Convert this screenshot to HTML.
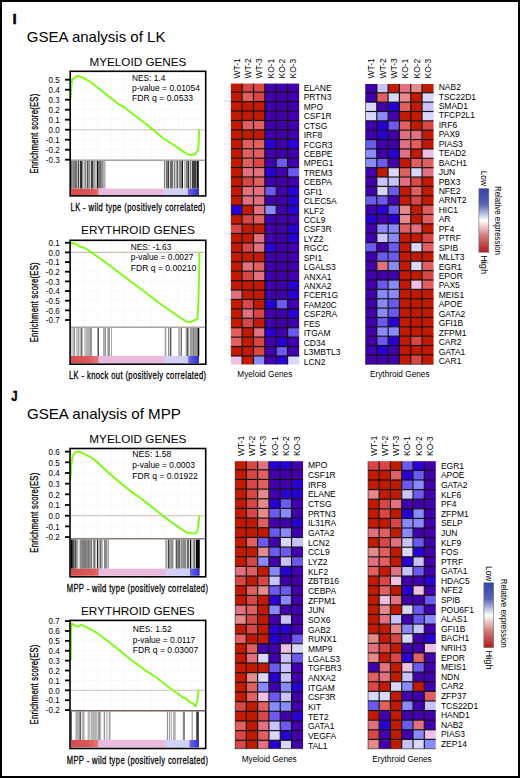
<!DOCTYPE html>
<html><head><meta charset="utf-8"><title>GSEA</title>
<style>
html,body{margin:0;padding:0;background:#fff;}
svg{display:block;}
text{font-family:"Liberation Sans", sans-serif;fill:#000;}
.g{font-size:8.5px;}
.s{font-size:9px;}
.t{font-size:9.3px;}
.h{font-size:11.3px;}
.c{font-size:10.6px;stroke:#000;stroke-width:0.3px;}
.l{font-size:8.3px;}
.pl{font-size:15px;font-weight:bold;stroke:#000;stroke-width:0.5px;}
.big{font-size:15px;}
</style></head>
<body>
<svg width="520" height="778" viewBox="0 0 520 778">
<rect x="1" y="1" width="518" height="776" fill="none" stroke="#000" stroke-width="2"/>
<text x="12.6" y="23.8" class="pl">I</text>
<text x="26.8" y="41.5" class="big" textLength="138.6" lengthAdjust="spacingAndGlyphs">GSEA analysis of LK</text>
<text transform="translate(11.2,401.3) scale(0.75,0.99)" class="pl">J</text>
<text x="26.9" y="418.8" class="big" textLength="154" lengthAdjust="spacingAndGlyphs">GSEA analysis of MPP</text>
<line x1="84.40" y1="71.3" x2="84.40" y2="160.3" stroke="#efefef" stroke-width="0.8" stroke-dasharray="1.2 1.2"/>
<line x1="97.85" y1="71.3" x2="97.85" y2="160.3" stroke="#efefef" stroke-width="0.8" stroke-dasharray="1.2 1.2"/>
<line x1="111.30" y1="71.3" x2="111.30" y2="160.3" stroke="#efefef" stroke-width="0.8" stroke-dasharray="1.2 1.2"/>
<line x1="124.75" y1="71.3" x2="124.75" y2="160.3" stroke="#efefef" stroke-width="0.8" stroke-dasharray="1.2 1.2"/>
<line x1="138.20" y1="71.3" x2="138.20" y2="160.3" stroke="#efefef" stroke-width="0.8" stroke-dasharray="1.2 1.2"/>
<line x1="151.65" y1="71.3" x2="151.65" y2="160.3" stroke="#efefef" stroke-width="0.8" stroke-dasharray="1.2 1.2"/>
<line x1="165.10" y1="71.3" x2="165.10" y2="160.3" stroke="#efefef" stroke-width="0.8" stroke-dasharray="1.2 1.2"/>
<line x1="178.55" y1="71.3" x2="178.55" y2="160.3" stroke="#efefef" stroke-width="0.8" stroke-dasharray="1.2 1.2"/>
<line x1="192.00" y1="71.3" x2="192.00" y2="160.3" stroke="#efefef" stroke-width="0.8" stroke-dasharray="1.2 1.2"/>
<line x1="70.95" y1="79.70" x2="204.95" y2="79.70" stroke="#efefef" stroke-width="0.8" stroke-dasharray="1.2 1.2"/>
<line x1="70.95" y1="89.70" x2="204.95" y2="89.70" stroke="#efefef" stroke-width="0.8" stroke-dasharray="1.2 1.2"/>
<line x1="70.95" y1="99.70" x2="204.95" y2="99.70" stroke="#efefef" stroke-width="0.8" stroke-dasharray="1.2 1.2"/>
<line x1="70.95" y1="109.70" x2="204.95" y2="109.70" stroke="#efefef" stroke-width="0.8" stroke-dasharray="1.2 1.2"/>
<line x1="70.95" y1="119.70" x2="204.95" y2="119.70" stroke="#efefef" stroke-width="0.8" stroke-dasharray="1.2 1.2"/>
<line x1="70.95" y1="139.70" x2="204.95" y2="139.70" stroke="#efefef" stroke-width="0.8" stroke-dasharray="1.2 1.2"/>
<line x1="70.95" y1="149.70" x2="204.95" y2="149.70" stroke="#efefef" stroke-width="0.8" stroke-dasharray="1.2 1.2"/>
<line x1="70.95" y1="159.70" x2="204.95" y2="159.70" stroke="#efefef" stroke-width="0.8" stroke-dasharray="1.2 1.2"/>
<line x1="70.95" y1="129.70" x2="204.95" y2="129.70" stroke="#c9c2b4" stroke-width="1.1"/>
<rect x="71.2" y="161.0" width="1.30" height="27.60" fill="#505050"/>
<rect x="72.5" y="161.0" width="2.50" height="27.60" fill="#808080"/>
<rect x="75" y="161.0" width="2.00" height="27.60" fill="#707070"/>
<rect x="77" y="161.0" width="1.00" height="27.60" fill="#c0c0c0"/>
<rect x="78" y="161.0" width="1.00" height="27.60" fill="#404040"/>
<rect x="79" y="161.0" width="1.00" height="27.60" fill="#d0d0d0"/>
<rect x="80" y="161.0" width="2.00" height="27.60" fill="#303030"/>
<rect x="82" y="161.0" width="1.50" height="27.60" fill="#909090"/>
<rect x="83.5" y="161.0" width="1.00" height="27.60" fill="#d0d0d0"/>
<rect x="84.5" y="161.0" width="1.50" height="27.60" fill="#808080"/>
<rect x="86" y="161.0" width="1.00" height="27.60" fill="#d0d0d0"/>
<rect x="87" y="161.0" width="1.50" height="27.60" fill="#505050"/>
<rect x="88.5" y="161.0" width="1.50" height="27.60" fill="#909090"/>
<rect x="90" y="161.0" width="1.00" height="27.60" fill="#d0d0d0"/>
<rect x="91" y="161.0" width="2.00" height="27.60" fill="#404040"/>
<rect x="93" y="161.0" width="2.00" height="27.60" fill="#a0a0a0"/>
<rect x="95" y="161.0" width="2.00" height="27.60" fill="#c0c0c0"/>
<rect x="97" y="161.0" width="1.00" height="27.60" fill="#101010"/>
<rect x="98" y="161.0" width="3.00" height="27.60" fill="#707070"/>
<rect x="101" y="161.0" width="2.00" height="27.60" fill="#909090"/>
<rect x="103" y="161.0" width="2.00" height="27.60" fill="#b0b0b0"/>
<rect x="105" y="161.0" width="1.00" height="27.60" fill="#d0d0d0"/>
<rect x="163.9" y="161.0" width="1.10" height="27.60" fill="#808080"/>
<rect x="165" y="161.0" width="1.00" height="27.60" fill="#d8d8d8"/>
<rect x="166" y="161.0" width="1.50" height="27.60" fill="#707070"/>
<rect x="167.5" y="161.0" width="1.50" height="27.60" fill="#404040"/>
<rect x="169" y="161.0" width="1.00" height="27.60" fill="#d8d8d8"/>
<rect x="170" y="161.0" width="3.00" height="27.60" fill="#707070"/>
<rect x="173" y="161.0" width="1.00" height="27.60" fill="#d8d8d8"/>
<rect x="174" y="161.0" width="1.50" height="27.60" fill="#808080"/>
<rect x="175.5" y="161.0" width="1.00" height="27.60" fill="#d8d8d8"/>
<rect x="176.5" y="161.0" width="1.50" height="27.60" fill="#606060"/>
<rect x="178" y="161.0" width="1.00" height="27.60" fill="#d0d0d0"/>
<rect x="179" y="161.0" width="1.00" height="27.60" fill="#909090"/>
<rect x="180" y="161.0" width="2.00" height="27.60" fill="#808080"/>
<rect x="182" y="161.0" width="1.00" height="27.60" fill="#101010"/>
<rect x="184" y="161.0" width="2.00" height="27.60" fill="#c0c0c0"/>
<rect x="186" y="161.0" width="2.00" height="27.60" fill="#808080"/>
<rect x="188" y="161.0" width="1.00" height="27.60" fill="#303030"/>
<rect x="189" y="161.0" width="1.00" height="27.60" fill="#d0d0d0"/>
<rect x="190" y="161.0" width="1.00" height="27.60" fill="#808080"/>
<rect x="191" y="161.0" width="1.00" height="27.60" fill="#d0d0d0"/>
<rect x="192" y="161.0" width="4.00" height="27.60" fill="#404040"/>
<rect x="196" y="161.0" width="1.00" height="27.60" fill="#808080"/>
<rect x="197" y="161.0" width="1.80" height="27.60" fill="#101010"/>
<linearGradient id="p1g" x1="0" x2="1" y1="0" y2="0"><stop offset="0%" stop-color="#d64a4a"/><stop offset="16.08%" stop-color="#dc5a5a"/><stop offset="18.32%" stop-color="#de6060"/><stop offset="20.34%" stop-color="#e27888"/><stop offset="20.93%" stop-color="#ebb8de"/><stop offset="69.22%" stop-color="#ebb8de"/><stop offset="69.66%" stop-color="#d2d2f8"/><stop offset="86.90%" stop-color="#d0d0f8"/><stop offset="87.50%" stop-color="#6464e6"/><stop offset="95.19%" stop-color="#3232d0"/><stop offset="95.41%" stop-color="#ffffff"/><stop offset="100%" stop-color="#ffffff"/></linearGradient>
<rect x="70.95" y="188.6" width="134.00" height="6.40" fill="url(#p1g)"/>
<line x1="70.95" y1="160.3" x2="204.95" y2="160.3" stroke="#a8a0a0" stroke-width="1.4"/>
<text x="132.0" y="80.8" class="s" textLength="33.3" lengthAdjust="spacingAndGlyphs">NES: 1.4</text>
<text x="132.0" y="90.9" class="s" textLength="68" lengthAdjust="spacingAndGlyphs">p-value = 0.01054</text>
<text x="132.0" y="101.2" class="s" textLength="61" lengthAdjust="spacingAndGlyphs">FDR q = 0.0533</text>
<polyline points="70.80,98.00 71.30,88.00 72.10,79.30 73.90,78.40 77.50,75.70 80.00,76.90 82.90,77.70 89.60,81.50 99.20,88.80 108.80,96.40 118.50,104.10 125.00,107.90 134.60,115.40 144.20,122.60 152.40,129.30 164.20,139.00 172.70,144.20 180.40,149.60 186.50,153.80 191.20,155.00 195.00,154.20 196.90,151.50 198.10,150.40 198.80,139.20 199.20,129.40" fill="none" stroke="#7efa14" stroke-width="1.9" stroke-linejoin="round"/>
<rect x="70.2" y="71.3" width="135.50" height="124.60" fill="none" stroke="#000" stroke-width="1.6"/>
<line x1="65" y1="79.70" x2="70.2" y2="79.70" stroke="#000" stroke-width="1.8"/>
<text transform="translate(59.6,83.00) scale(0.86,1)" class="t" text-anchor="end">0.5</text>
<line x1="65" y1="89.70" x2="70.2" y2="89.70" stroke="#000" stroke-width="1.8"/>
<text transform="translate(59.6,93.00) scale(0.86,1)" class="t" text-anchor="end">0.4</text>
<line x1="65" y1="99.70" x2="70.2" y2="99.70" stroke="#000" stroke-width="1.8"/>
<text transform="translate(59.6,103.00) scale(0.86,1)" class="t" text-anchor="end">0.3</text>
<line x1="65" y1="109.70" x2="70.2" y2="109.70" stroke="#000" stroke-width="1.8"/>
<text transform="translate(59.6,113.00) scale(0.86,1)" class="t" text-anchor="end">0.2</text>
<line x1="65" y1="119.70" x2="70.2" y2="119.70" stroke="#000" stroke-width="1.8"/>
<text transform="translate(59.6,123.00) scale(0.86,1)" class="t" text-anchor="end">0.1</text>
<line x1="65" y1="129.70" x2="70.2" y2="129.70" stroke="#000" stroke-width="1.8"/>
<text transform="translate(59.6,133.00) scale(0.86,1)" class="t" text-anchor="end">0.0</text>
<line x1="65" y1="139.70" x2="70.2" y2="139.70" stroke="#000" stroke-width="1.8"/>
<text transform="translate(59.6,143.00) scale(0.86,1)" class="t" text-anchor="end">-0.1</text>
<line x1="65" y1="149.70" x2="70.2" y2="149.70" stroke="#000" stroke-width="1.8"/>
<text transform="translate(59.6,153.00) scale(0.86,1)" class="t" text-anchor="end">-0.2</text>
<line x1="65" y1="159.70" x2="70.2" y2="159.70" stroke="#000" stroke-width="1.8"/>
<text transform="translate(59.6,163.00) scale(0.86,1)" class="t" text-anchor="end">-0.3</text>
<text x="89.45" y="65.7" class="h" textLength="97" lengthAdjust="spacingAndGlyphs">MYELOID GENES</text>
<text transform="translate(70.50,210.60) scale(0.72,1)" class="c" style="letter-spacing:0.546px">LK - wild type (positively correlated)</text>
<text transform="translate(37.80,173.60) rotate(-90) scale(0.72,1)" class="c" style="letter-spacing:0.391px">Enrichment score(ES)</text>
<line x1="84.30" y1="240.3" x2="84.30" y2="327.2" stroke="#efefef" stroke-width="0.8" stroke-dasharray="1.2 1.2"/>
<line x1="97.75" y1="240.3" x2="97.75" y2="327.2" stroke="#efefef" stroke-width="0.8" stroke-dasharray="1.2 1.2"/>
<line x1="111.20" y1="240.3" x2="111.20" y2="327.2" stroke="#efefef" stroke-width="0.8" stroke-dasharray="1.2 1.2"/>
<line x1="124.65" y1="240.3" x2="124.65" y2="327.2" stroke="#efefef" stroke-width="0.8" stroke-dasharray="1.2 1.2"/>
<line x1="138.10" y1="240.3" x2="138.10" y2="327.2" stroke="#efefef" stroke-width="0.8" stroke-dasharray="1.2 1.2"/>
<line x1="151.55" y1="240.3" x2="151.55" y2="327.2" stroke="#efefef" stroke-width="0.8" stroke-dasharray="1.2 1.2"/>
<line x1="165.00" y1="240.3" x2="165.00" y2="327.2" stroke="#efefef" stroke-width="0.8" stroke-dasharray="1.2 1.2"/>
<line x1="178.45" y1="240.3" x2="178.45" y2="327.2" stroke="#efefef" stroke-width="0.8" stroke-dasharray="1.2 1.2"/>
<line x1="191.90" y1="240.3" x2="191.90" y2="327.2" stroke="#efefef" stroke-width="0.8" stroke-dasharray="1.2 1.2"/>
<line x1="70.85" y1="242.74" x2="205.05" y2="242.74" stroke="#efefef" stroke-width="0.8" stroke-dasharray="1.2 1.2"/>
<line x1="70.85" y1="262.06" x2="205.05" y2="262.06" stroke="#efefef" stroke-width="0.8" stroke-dasharray="1.2 1.2"/>
<line x1="70.85" y1="271.72" x2="205.05" y2="271.72" stroke="#efefef" stroke-width="0.8" stroke-dasharray="1.2 1.2"/>
<line x1="70.85" y1="281.38" x2="205.05" y2="281.38" stroke="#efefef" stroke-width="0.8" stroke-dasharray="1.2 1.2"/>
<line x1="70.85" y1="291.04" x2="205.05" y2="291.04" stroke="#efefef" stroke-width="0.8" stroke-dasharray="1.2 1.2"/>
<line x1="70.85" y1="300.70" x2="205.05" y2="300.70" stroke="#efefef" stroke-width="0.8" stroke-dasharray="1.2 1.2"/>
<line x1="70.85" y1="310.36" x2="205.05" y2="310.36" stroke="#efefef" stroke-width="0.8" stroke-dasharray="1.2 1.2"/>
<line x1="70.85" y1="320.02" x2="205.05" y2="320.02" stroke="#efefef" stroke-width="0.8" stroke-dasharray="1.2 1.2"/>
<line x1="70.85" y1="252.40" x2="205.05" y2="252.40" stroke="#c9c2b4" stroke-width="1.1"/>
<rect x="71.5" y="328.0" width="1.00" height="28.00" fill="#a0a0a0"/>
<rect x="73" y="328.0" width="1.00" height="28.00" fill="#b8b8b8"/>
<rect x="74" y="328.0" width="1.00" height="28.00" fill="#909090"/>
<rect x="76" y="328.0" width="2.00" height="28.00" fill="#c0c0c0"/>
<rect x="78" y="328.0" width="1.50" height="28.00" fill="#a8a8a8"/>
<rect x="80.5" y="328.0" width="2.00" height="28.00" fill="#707070"/>
<rect x="84" y="328.0" width="2.00" height="28.00" fill="#c8c8c8"/>
<rect x="86" y="328.0" width="4.50" height="28.00" fill="#b0b0b0"/>
<rect x="90.5" y="328.0" width="1.00" height="28.00" fill="#404040"/>
<rect x="97.5" y="328.0" width="1.50" height="28.00" fill="#505050"/>
<rect x="103" y="328.0" width="1.50" height="28.00" fill="#a8a8a8"/>
<rect x="104.5" y="328.0" width="1.50" height="28.00" fill="#909090"/>
<rect x="107" y="328.0" width="1.00" height="28.00" fill="#b8b8b8"/>
<rect x="108" y="328.0" width="2.00" height="28.00" fill="#989898"/>
<rect x="111" y="328.0" width="1.00" height="28.00" fill="#a8a8a8"/>
<rect x="164.7" y="328.0" width="1.60" height="28.00" fill="#a0a0a0"/>
<rect x="168" y="328.0" width="1.00" height="28.00" fill="#909090"/>
<rect x="169.7" y="328.0" width="1.70" height="28.00" fill="#606060"/>
<rect x="178.2" y="328.0" width="2.10" height="28.00" fill="#b0b0b0"/>
<rect x="180.7" y="328.0" width="1.30" height="28.00" fill="#707070"/>
<rect x="185.4" y="328.0" width="1.20" height="28.00" fill="#c0c0c0"/>
<rect x="186.6" y="328.0" width="1.30" height="28.00" fill="#404040"/>
<rect x="187.9" y="328.0" width="1.30" height="28.00" fill="#a0a0a0"/>
<rect x="189.2" y="328.0" width="1.30" height="28.00" fill="#e0e0e0"/>
<rect x="190.5" y="328.0" width="1.20" height="28.00" fill="#505050"/>
<rect x="191.7" y="328.0" width="0.90" height="28.00" fill="#d0d0d0"/>
<rect x="192.6" y="328.0" width="1.20" height="28.00" fill="#505050"/>
<rect x="193.8" y="328.0" width="1.30" height="28.00" fill="#a0a0a0"/>
<rect x="195.1" y="328.0" width="2.50" height="28.00" fill="#909090"/>
<rect x="197.6" y="328.0" width="1.70" height="28.00" fill="#101010"/>
<linearGradient id="p2g" x1="0" x2="1" y1="0" y2="0"><stop offset="0%" stop-color="#d64a4a"/><stop offset="12.48%" stop-color="#dc5a5a"/><stop offset="14.72%" stop-color="#de6060"/><stop offset="20.38%" stop-color="#e27888"/><stop offset="20.98%" stop-color="#ebb8de"/><stop offset="69.19%" stop-color="#ebb8de"/><stop offset="69.63%" stop-color="#d2d2f8"/><stop offset="87.22%" stop-color="#d0d0f8"/><stop offset="87.82%" stop-color="#6464e6"/><stop offset="95.12%" stop-color="#3232d0"/><stop offset="95.34%" stop-color="#ffffff"/><stop offset="100%" stop-color="#ffffff"/></linearGradient>
<rect x="70.85" y="356.0" width="134.20" height="7.30" fill="url(#p2g)"/>
<line x1="70.85" y1="327.2" x2="205.05" y2="327.2" stroke="#aaa2a0" stroke-width="1.4"/>
<text x="130.8" y="250.4" class="s" textLength="40.5" lengthAdjust="spacingAndGlyphs">NES: -1.63</text>
<text x="130.8" y="260.4" class="s" textLength="62.5" lengthAdjust="spacingAndGlyphs">p-value = 0.0027</text>
<text x="130.8" y="270.7" class="s" textLength="65.5" lengthAdjust="spacingAndGlyphs">FDR q = 0.00210</text>
<polyline points="70.50,243.70 72.50,242.90 74.00,243.70 75.50,243.70 79.40,246.40 82.50,247.50 84.00,247.50 90.00,251.30 101.50,259.40 113.10,268.10 124.60,276.70 136.10,285.40 145.00,291.90 156.50,300.90 168.10,309.20 179.60,317.30 186.50,321.70 191.10,321.90 194.60,320.20 197.50,319.00 198.30,304.60 199.00,281.50 199.40,252.00" fill="none" stroke="#7efa14" stroke-width="1.9" stroke-linejoin="round"/>
<rect x="70.1" y="240.3" width="135.70" height="123.90" fill="none" stroke="#000" stroke-width="1.6"/>
<line x1="65" y1="242.74" x2="70.1" y2="242.74" stroke="#000" stroke-width="1.8"/>
<text transform="translate(59.6,246.04) scale(0.86,1)" class="t" text-anchor="end">0.1</text>
<line x1="65" y1="252.40" x2="70.1" y2="252.40" stroke="#000" stroke-width="1.8"/>
<text transform="translate(59.6,255.70) scale(0.86,1)" class="t" text-anchor="end">0.0</text>
<line x1="65" y1="262.06" x2="70.1" y2="262.06" stroke="#000" stroke-width="1.8"/>
<text transform="translate(59.6,265.36) scale(0.86,1)" class="t" text-anchor="end">-0.1</text>
<line x1="65" y1="271.72" x2="70.1" y2="271.72" stroke="#000" stroke-width="1.8"/>
<text transform="translate(59.6,275.02) scale(0.86,1)" class="t" text-anchor="end">-0.2</text>
<line x1="65" y1="281.38" x2="70.1" y2="281.38" stroke="#000" stroke-width="1.8"/>
<text transform="translate(59.6,284.68) scale(0.86,1)" class="t" text-anchor="end">-0.3</text>
<line x1="65" y1="291.04" x2="70.1" y2="291.04" stroke="#000" stroke-width="1.8"/>
<text transform="translate(59.6,294.34) scale(0.86,1)" class="t" text-anchor="end">-0.4</text>
<line x1="65" y1="300.70" x2="70.1" y2="300.70" stroke="#000" stroke-width="1.8"/>
<text transform="translate(59.6,304.00) scale(0.86,1)" class="t" text-anchor="end">-0.5</text>
<line x1="65" y1="310.36" x2="70.1" y2="310.36" stroke="#000" stroke-width="1.8"/>
<text transform="translate(59.6,313.66) scale(0.86,1)" class="t" text-anchor="end">-0.6</text>
<line x1="65" y1="320.02" x2="70.1" y2="320.02" stroke="#000" stroke-width="1.8"/>
<text transform="translate(59.6,323.32) scale(0.86,1)" class="t" text-anchor="end">-0.7</text>
<text x="81.10" y="234.0" class="h" textLength="113.7" lengthAdjust="spacingAndGlyphs">ERYTHROID GENES</text>
<text transform="translate(69.00,379.40) scale(0.72,1)" class="c" style="letter-spacing:0.520px">LK - knock out (positively correlated)</text>
<text transform="translate(37.80,342.25) rotate(-90) scale(0.72,1)" class="c" style="letter-spacing:0.391px">Enrichment score(ES)</text>
<line x1="84.20" y1="448.5" x2="84.20" y2="538.8" stroke="#efefef" stroke-width="0.8" stroke-dasharray="1.2 1.2"/>
<line x1="97.65" y1="448.5" x2="97.65" y2="538.8" stroke="#efefef" stroke-width="0.8" stroke-dasharray="1.2 1.2"/>
<line x1="111.10" y1="448.5" x2="111.10" y2="538.8" stroke="#efefef" stroke-width="0.8" stroke-dasharray="1.2 1.2"/>
<line x1="124.55" y1="448.5" x2="124.55" y2="538.8" stroke="#efefef" stroke-width="0.8" stroke-dasharray="1.2 1.2"/>
<line x1="138.00" y1="448.5" x2="138.00" y2="538.8" stroke="#efefef" stroke-width="0.8" stroke-dasharray="1.2 1.2"/>
<line x1="151.45" y1="448.5" x2="151.45" y2="538.8" stroke="#efefef" stroke-width="0.8" stroke-dasharray="1.2 1.2"/>
<line x1="164.90" y1="448.5" x2="164.90" y2="538.8" stroke="#efefef" stroke-width="0.8" stroke-dasharray="1.2 1.2"/>
<line x1="178.35" y1="448.5" x2="178.35" y2="538.8" stroke="#efefef" stroke-width="0.8" stroke-dasharray="1.2 1.2"/>
<line x1="191.80" y1="448.5" x2="191.80" y2="538.8" stroke="#efefef" stroke-width="0.8" stroke-dasharray="1.2 1.2"/>
<line x1="70.75" y1="451.62" x2="204.95" y2="451.62" stroke="#efefef" stroke-width="0.8" stroke-dasharray="1.2 1.2"/>
<line x1="70.75" y1="462.30" x2="204.95" y2="462.30" stroke="#efefef" stroke-width="0.8" stroke-dasharray="1.2 1.2"/>
<line x1="70.75" y1="472.98" x2="204.95" y2="472.98" stroke="#efefef" stroke-width="0.8" stroke-dasharray="1.2 1.2"/>
<line x1="70.75" y1="483.66" x2="204.95" y2="483.66" stroke="#efefef" stroke-width="0.8" stroke-dasharray="1.2 1.2"/>
<line x1="70.75" y1="494.34" x2="204.95" y2="494.34" stroke="#efefef" stroke-width="0.8" stroke-dasharray="1.2 1.2"/>
<line x1="70.75" y1="505.02" x2="204.95" y2="505.02" stroke="#efefef" stroke-width="0.8" stroke-dasharray="1.2 1.2"/>
<line x1="70.75" y1="526.38" x2="204.95" y2="526.38" stroke="#efefef" stroke-width="0.8" stroke-dasharray="1.2 1.2"/>
<line x1="70.75" y1="537.06" x2="204.95" y2="537.06" stroke="#efefef" stroke-width="0.8" stroke-dasharray="1.2 1.2"/>
<line x1="70.75" y1="515.70" x2="204.95" y2="515.70" stroke="#c9c2b4" stroke-width="1.1"/>
<rect x="70.8" y="539.5" width="2.00" height="29.20" fill="#000000"/>
<rect x="72.8" y="539.5" width="1.30" height="29.20" fill="#505050"/>
<rect x="74.1" y="539.5" width="1.20" height="29.20" fill="#707070"/>
<rect x="75.3" y="539.5" width="0.90" height="29.20" fill="#202020"/>
<rect x="76.2" y="539.5" width="1.30" height="29.20" fill="#808080"/>
<rect x="77.5" y="539.5" width="0.80" height="29.20" fill="#a0a0a0"/>
<rect x="79.6" y="539.5" width="0.80" height="29.20" fill="#909090"/>
<rect x="80.4" y="539.5" width="1.30" height="29.20" fill="#606060"/>
<rect x="81.7" y="539.5" width="3.40" height="29.20" fill="#808080"/>
<rect x="85.1" y="539.5" width="0.80" height="29.20" fill="#505050"/>
<rect x="85.9" y="539.5" width="1.30" height="29.20" fill="#909090"/>
<rect x="87.2" y="539.5" width="1.70" height="29.20" fill="#707070"/>
<rect x="88.9" y="539.5" width="0.80" height="29.20" fill="#404040"/>
<rect x="89.7" y="539.5" width="0.90" height="29.20" fill="#c0c0c0"/>
<rect x="90.6" y="539.5" width="1.20" height="29.20" fill="#303030"/>
<rect x="91.8" y="539.5" width="1.70" height="29.20" fill="#e8e8e8"/>
<rect x="93.5" y="539.5" width="1.30" height="29.20" fill="#404040"/>
<rect x="94.8" y="539.5" width="0.80" height="29.20" fill="#909090"/>
<rect x="96.9" y="539.5" width="1.30" height="29.20" fill="#202020"/>
<rect x="98.2" y="539.5" width="1.30" height="29.20" fill="#c0c0c0"/>
<rect x="99.5" y="539.5" width="1.60" height="29.20" fill="#707070"/>
<rect x="101.1" y="539.5" width="1.70" height="29.20" fill="#a0a0a0"/>
<rect x="104.1" y="539.5" width="1.30" height="29.20" fill="#808080"/>
<rect x="105.4" y="539.5" width="1.20" height="29.20" fill="#505050"/>
<rect x="107.5" y="539.5" width="1.30" height="29.20" fill="#909090"/>
<rect x="165.5" y="539.5" width="1.30" height="29.20" fill="#808080"/>
<rect x="166.8" y="539.5" width="1.20" height="29.20" fill="#d0d0d0"/>
<rect x="168" y="539.5" width="1.30" height="29.20" fill="#404040"/>
<rect x="169.3" y="539.5" width="1.30" height="29.20" fill="#808080"/>
<rect x="170.6" y="539.5" width="2.90" height="29.20" fill="#909090"/>
<rect x="175.7" y="539.5" width="1.20" height="29.20" fill="#404040"/>
<rect x="176.9" y="539.5" width="1.30" height="29.20" fill="#909090"/>
<rect x="178.2" y="539.5" width="1.70" height="29.20" fill="#505050"/>
<rect x="179.9" y="539.5" width="1.30" height="29.20" fill="#c0c0c0"/>
<rect x="181.2" y="539.5" width="1.20" height="29.20" fill="#707070"/>
<rect x="182.4" y="539.5" width="3.80" height="29.20" fill="#888888"/>
<rect x="186.2" y="539.5" width="0.90" height="29.20" fill="#d0d0d0"/>
<rect x="187.1" y="539.5" width="2.10" height="29.20" fill="#606060"/>
<rect x="189.2" y="539.5" width="0.80" height="29.20" fill="#e0e0e0"/>
<rect x="190" y="539.5" width="1.30" height="29.20" fill="#080808"/>
<rect x="192.6" y="539.5" width="1.20" height="29.20" fill="#909090"/>
<rect x="193.8" y="539.5" width="1.30" height="29.20" fill="#707070"/>
<rect x="195.1" y="539.5" width="0.90" height="29.20" fill="#c0c0c0"/>
<rect x="196" y="539.5" width="3.80" height="29.20" fill="#050505"/>
<linearGradient id="p3g" x1="0" x2="1" y1="0" y2="0"><stop offset="0%" stop-color="#d64a4a"/><stop offset="16.58%" stop-color="#dc5a5a"/><stop offset="18.82%" stop-color="#de6060"/><stop offset="20.83%" stop-color="#e27888"/><stop offset="21.42%" stop-color="#ebb8de"/><stop offset="70.53%" stop-color="#ebb8de"/><stop offset="70.98%" stop-color="#d2d2f8"/><stop offset="88.64%" stop-color="#d0d0f8"/><stop offset="89.23%" stop-color="#6464e6"/><stop offset="95.86%" stop-color="#3232d0"/><stop offset="96.09%" stop-color="#ffffff"/><stop offset="100%" stop-color="#ffffff"/></linearGradient>
<rect x="70.75" y="568.7" width="134.20" height="7.10" fill="url(#p3g)"/>
<line x1="70.75" y1="538.8" x2="204.95" y2="538.8" stroke="#8a7d75" stroke-width="1.4"/>
<text x="132.3" y="457.3" class="s" textLength="39" lengthAdjust="spacingAndGlyphs">NES: 1.58</text>
<text x="132.3" y="468.0" class="s" textLength="62.5" lengthAdjust="spacingAndGlyphs">p-value = 0.0003</text>
<text x="132.3" y="478.5" class="s" textLength="65.5" lengthAdjust="spacingAndGlyphs">FDR q = 0.01922</text>
<polyline points="70.50,480.00 71.20,465.70 72.60,456.70 74.80,452.70 78.40,451.50 82.00,452.90 85.00,454.40 90.80,457.20 96.50,461.50 108.10,472.50 119.60,482.30 131.10,491.50 145.00,501.60 156.50,510.60 162.30,515.20 168.10,519.80 179.60,527.90 186.50,532.50 191.10,533.10 194.60,533.60 196.90,532.50 198.30,526.10 199.40,515.50" fill="none" stroke="#7efa14" stroke-width="1.9" stroke-linejoin="round"/>
<rect x="70.0" y="448.5" width="135.70" height="128.30" fill="none" stroke="#000" stroke-width="1.6"/>
<line x1="65" y1="451.62" x2="70.0" y2="451.62" stroke="#000" stroke-width="1.8"/>
<text transform="translate(59.6,454.92) scale(0.86,1)" class="t" text-anchor="end">0.6</text>
<line x1="65" y1="462.30" x2="70.0" y2="462.30" stroke="#000" stroke-width="1.8"/>
<text transform="translate(59.6,465.60) scale(0.86,1)" class="t" text-anchor="end">0.5</text>
<line x1="65" y1="472.98" x2="70.0" y2="472.98" stroke="#000" stroke-width="1.8"/>
<text transform="translate(59.6,476.28) scale(0.86,1)" class="t" text-anchor="end">0.4</text>
<line x1="65" y1="483.66" x2="70.0" y2="483.66" stroke="#000" stroke-width="1.8"/>
<text transform="translate(59.6,486.96) scale(0.86,1)" class="t" text-anchor="end">0.3</text>
<line x1="65" y1="494.34" x2="70.0" y2="494.34" stroke="#000" stroke-width="1.8"/>
<text transform="translate(59.6,497.64) scale(0.86,1)" class="t" text-anchor="end">0.2</text>
<line x1="65" y1="505.02" x2="70.0" y2="505.02" stroke="#000" stroke-width="1.8"/>
<text transform="translate(59.6,508.32) scale(0.86,1)" class="t" text-anchor="end">0.1</text>
<line x1="65" y1="515.70" x2="70.0" y2="515.70" stroke="#000" stroke-width="1.8"/>
<text transform="translate(59.6,519.00) scale(0.86,1)" class="t" text-anchor="end">0.0</text>
<line x1="65" y1="526.38" x2="70.0" y2="526.38" stroke="#000" stroke-width="1.8"/>
<text transform="translate(59.6,529.68) scale(0.86,1)" class="t" text-anchor="end">-0.1</text>
<line x1="65" y1="537.06" x2="70.0" y2="537.06" stroke="#000" stroke-width="1.8"/>
<text transform="translate(59.6,540.36) scale(0.86,1)" class="t" text-anchor="end">-0.2</text>
<text x="89.35" y="442.6" class="h" textLength="97" lengthAdjust="spacingAndGlyphs">MYELOID GENES</text>
<text transform="translate(66.70,591.50) scale(0.72,1)" class="c" style="letter-spacing:0.511px">MPP - wild type (positively correlated)</text>
<text transform="translate(37.80,552.65) rotate(-90) scale(0.72,1)" class="c" style="letter-spacing:0.391px">Enrichment score(ES)</text>
<line x1="84.20" y1="620.4" x2="84.20" y2="710.8" stroke="#efefef" stroke-width="0.8" stroke-dasharray="1.2 1.2"/>
<line x1="97.65" y1="620.4" x2="97.65" y2="710.8" stroke="#efefef" stroke-width="0.8" stroke-dasharray="1.2 1.2"/>
<line x1="111.10" y1="620.4" x2="111.10" y2="710.8" stroke="#efefef" stroke-width="0.8" stroke-dasharray="1.2 1.2"/>
<line x1="124.55" y1="620.4" x2="124.55" y2="710.8" stroke="#efefef" stroke-width="0.8" stroke-dasharray="1.2 1.2"/>
<line x1="138.00" y1="620.4" x2="138.00" y2="710.8" stroke="#efefef" stroke-width="0.8" stroke-dasharray="1.2 1.2"/>
<line x1="151.45" y1="620.4" x2="151.45" y2="710.8" stroke="#efefef" stroke-width="0.8" stroke-dasharray="1.2 1.2"/>
<line x1="164.90" y1="620.4" x2="164.90" y2="710.8" stroke="#efefef" stroke-width="0.8" stroke-dasharray="1.2 1.2"/>
<line x1="178.35" y1="620.4" x2="178.35" y2="710.8" stroke="#efefef" stroke-width="0.8" stroke-dasharray="1.2 1.2"/>
<line x1="191.80" y1="620.4" x2="191.80" y2="710.8" stroke="#efefef" stroke-width="0.8" stroke-dasharray="1.2 1.2"/>
<line x1="70.75" y1="621.07" x2="204.95" y2="621.07" stroke="#efefef" stroke-width="0.8" stroke-dasharray="1.2 1.2"/>
<line x1="70.75" y1="630.96" x2="204.95" y2="630.96" stroke="#efefef" stroke-width="0.8" stroke-dasharray="1.2 1.2"/>
<line x1="70.75" y1="640.85" x2="204.95" y2="640.85" stroke="#efefef" stroke-width="0.8" stroke-dasharray="1.2 1.2"/>
<line x1="70.75" y1="650.74" x2="204.95" y2="650.74" stroke="#efefef" stroke-width="0.8" stroke-dasharray="1.2 1.2"/>
<line x1="70.75" y1="660.63" x2="204.95" y2="660.63" stroke="#efefef" stroke-width="0.8" stroke-dasharray="1.2 1.2"/>
<line x1="70.75" y1="670.52" x2="204.95" y2="670.52" stroke="#efefef" stroke-width="0.8" stroke-dasharray="1.2 1.2"/>
<line x1="70.75" y1="680.41" x2="204.95" y2="680.41" stroke="#efefef" stroke-width="0.8" stroke-dasharray="1.2 1.2"/>
<line x1="70.75" y1="700.19" x2="204.95" y2="700.19" stroke="#efefef" stroke-width="0.8" stroke-dasharray="1.2 1.2"/>
<line x1="70.75" y1="710.08" x2="204.95" y2="710.08" stroke="#efefef" stroke-width="0.8" stroke-dasharray="1.2 1.2"/>
<line x1="70.75" y1="690.30" x2="204.95" y2="690.30" stroke="#c9c2b4" stroke-width="1.1"/>
<rect x="70.8" y="711.5" width="0.80" height="28.50" fill="#000000"/>
<rect x="75.3" y="711.5" width="4.30" height="28.50" fill="#b0b0b0"/>
<rect x="79.6" y="711.5" width="1.20" height="28.50" fill="#404040"/>
<rect x="81.7" y="711.5" width="3.00" height="28.50" fill="#b0b0b0"/>
<rect x="87.6" y="711.5" width="1.30" height="28.50" fill="#b0b0b0"/>
<rect x="88.9" y="711.5" width="0.80" height="28.50" fill="#909090"/>
<rect x="89.7" y="711.5" width="1.30" height="28.50" fill="#e0e0e0"/>
<rect x="91" y="711.5" width="5.90" height="28.50" fill="#b4b4b4"/>
<rect x="96.9" y="711.5" width="1.30" height="28.50" fill="#c8c8c8"/>
<rect x="98.2" y="711.5" width="2.10" height="28.50" fill="#909090"/>
<rect x="100.3" y="711.5" width="0.90" height="28.50" fill="#b0b0b0"/>
<rect x="103.7" y="711.5" width="1.30" height="28.50" fill="#909090"/>
<rect x="106.2" y="711.5" width="1.30" height="28.50" fill="#b0b0b0"/>
<rect x="108.8" y="711.5" width="1.70" height="28.50" fill="#a0a0a0"/>
<rect x="166.9" y="711.5" width="1.10" height="28.50" fill="#909090"/>
<rect x="168.9" y="711.5" width="1.10" height="28.50" fill="#a0a0a0"/>
<rect x="170.8" y="711.5" width="1.00" height="28.50" fill="#a0a0a0"/>
<rect x="173.1" y="711.5" width="2.60" height="28.50" fill="#b0b0b0"/>
<rect x="182.8" y="711.5" width="2.20" height="28.50" fill="#888888"/>
<rect x="191.5" y="711.5" width="1.50" height="28.50" fill="#b0b0b0"/>
<rect x="196.2" y="711.5" width="2.70" height="28.50" fill="#404040"/>
<linearGradient id="p4g" x1="0" x2="1" y1="0" y2="0"><stop offset="0%" stop-color="#d64a4a"/><stop offset="13.52%" stop-color="#dc5a5a"/><stop offset="15.76%" stop-color="#de6060"/><stop offset="20.16%" stop-color="#e27888"/><stop offset="20.75%" stop-color="#ebb8de"/><stop offset="70.38%" stop-color="#ebb8de"/><stop offset="70.83%" stop-color="#d2d2f8"/><stop offset="88.26%" stop-color="#d0d0f8"/><stop offset="88.86%" stop-color="#6464e6"/><stop offset="95.34%" stop-color="#3232d0"/><stop offset="95.57%" stop-color="#ffffff"/><stop offset="100%" stop-color="#ffffff"/></linearGradient>
<rect x="70.75" y="740.0" width="134.20" height="7.40" fill="url(#p4g)"/>
<line x1="70.75" y1="710.8" x2="204.95" y2="710.8" stroke="#6e625c" stroke-width="1.4"/>
<text x="132.8" y="632.2" class="s" textLength="39" lengthAdjust="spacingAndGlyphs">NES: 1.52</text>
<text x="132.8" y="643.0" class="s" textLength="62.5" lengthAdjust="spacingAndGlyphs">p-value = 0.0117</text>
<text x="132.8" y="653.2" class="s" textLength="65.5" lengthAdjust="spacingAndGlyphs">FDR q = 0.03007</text>
<polyline points="70.90,660.00 71.00,645.00 71.20,630.00 71.50,623.40 73.40,624.70 76.10,626.10 78.80,626.60 80.20,625.50 81.50,624.70 84.20,626.10 85.00,626.30 96.50,632.70 108.10,641.30 119.60,650.60 131.10,659.80 145.00,670.10 156.50,677.50 168.10,686.70 172.70,690.20 179.60,694.80 183.10,697.90 184.80,697.70 191.10,702.90 192.90,703.40 195.70,706.30 197.50,700.00 198.60,689.60" fill="none" stroke="#7efa14" stroke-width="1.9" stroke-linejoin="round"/>
<rect x="70.0" y="620.4" width="135.70" height="128.10" fill="none" stroke="#000" stroke-width="1.6"/>
<line x1="65" y1="621.07" x2="70.0" y2="621.07" stroke="#000" stroke-width="1.8"/>
<text transform="translate(59.6,624.37) scale(0.86,1)" class="t" text-anchor="end">0.7</text>
<line x1="65" y1="630.96" x2="70.0" y2="630.96" stroke="#000" stroke-width="1.8"/>
<text transform="translate(59.6,634.26) scale(0.86,1)" class="t" text-anchor="end">0.6</text>
<line x1="65" y1="640.85" x2="70.0" y2="640.85" stroke="#000" stroke-width="1.8"/>
<text transform="translate(59.6,644.15) scale(0.86,1)" class="t" text-anchor="end">0.5</text>
<line x1="65" y1="650.74" x2="70.0" y2="650.74" stroke="#000" stroke-width="1.8"/>
<text transform="translate(59.6,654.04) scale(0.86,1)" class="t" text-anchor="end">0.4</text>
<line x1="65" y1="660.63" x2="70.0" y2="660.63" stroke="#000" stroke-width="1.8"/>
<text transform="translate(59.6,663.93) scale(0.86,1)" class="t" text-anchor="end">0.3</text>
<line x1="65" y1="670.52" x2="70.0" y2="670.52" stroke="#000" stroke-width="1.8"/>
<text transform="translate(59.6,673.82) scale(0.86,1)" class="t" text-anchor="end">0.2</text>
<line x1="65" y1="680.41" x2="70.0" y2="680.41" stroke="#000" stroke-width="1.8"/>
<text transform="translate(59.6,683.71) scale(0.86,1)" class="t" text-anchor="end">0.1</text>
<line x1="65" y1="690.30" x2="70.0" y2="690.30" stroke="#000" stroke-width="1.8"/>
<text transform="translate(59.6,693.60) scale(0.86,1)" class="t" text-anchor="end">0.0</text>
<line x1="65" y1="700.19" x2="70.0" y2="700.19" stroke="#000" stroke-width="1.8"/>
<text transform="translate(59.6,703.49) scale(0.86,1)" class="t" text-anchor="end">-0.1</text>
<line x1="65" y1="710.08" x2="70.0" y2="710.08" stroke="#000" stroke-width="1.8"/>
<text transform="translate(59.6,713.38) scale(0.86,1)" class="t" text-anchor="end">-0.2</text>
<text x="81.00" y="615.0" class="h" textLength="113.7" lengthAdjust="spacingAndGlyphs">ERYTHROID GENES</text>
<text transform="translate(66.70,764.00) scale(0.72,1)" class="c" style="letter-spacing:0.511px">MPP - wild type (positively correlated)</text>
<text transform="translate(37.80,724.45) rotate(-90) scale(0.72,1)" class="c" style="letter-spacing:0.391px">Enrichment score(ES)</text>
<rect x="230.85" y="83.60" width="11.43" height="8.65" fill="#c21a00"/>
<rect x="242.22" y="83.60" width="11.43" height="8.65" fill="#d84646"/>
<rect x="253.60" y="83.60" width="11.43" height="8.65" fill="#d84646"/>
<rect x="264.98" y="83.60" width="11.43" height="8.65" fill="#4200ac"/>
<rect x="276.35" y="83.60" width="11.43" height="8.65" fill="#4200ac"/>
<rect x="287.73" y="83.60" width="11.43" height="8.65" fill="#4200ac"/>
<rect x="230.85" y="92.20" width="11.43" height="9.47" fill="#c21a00"/>
<rect x="242.22" y="92.20" width="11.43" height="9.47" fill="#e25f5f"/>
<rect x="253.60" y="92.20" width="11.43" height="9.47" fill="#d84646"/>
<rect x="264.98" y="92.20" width="11.43" height="9.47" fill="#4200ac"/>
<rect x="276.35" y="92.20" width="11.43" height="9.47" fill="#4200ac"/>
<rect x="287.73" y="92.20" width="11.43" height="9.47" fill="#4200ac"/>
<rect x="230.85" y="101.62" width="11.43" height="9.47" fill="#c21a00"/>
<rect x="242.22" y="101.62" width="11.43" height="9.47" fill="#c21a00"/>
<rect x="253.60" y="101.62" width="11.43" height="9.47" fill="#c21a00"/>
<rect x="264.98" y="101.62" width="11.43" height="9.47" fill="#4200ac"/>
<rect x="276.35" y="101.62" width="11.43" height="9.47" fill="#4200ac"/>
<rect x="287.73" y="101.62" width="11.43" height="9.47" fill="#4200ac"/>
<rect x="230.85" y="111.04" width="11.43" height="9.47" fill="#c21a00"/>
<rect x="242.22" y="111.04" width="11.43" height="9.47" fill="#c21a00"/>
<rect x="253.60" y="111.04" width="11.43" height="9.47" fill="#c21a00"/>
<rect x="264.98" y="111.04" width="11.43" height="9.47" fill="#4200ac"/>
<rect x="276.35" y="111.04" width="11.43" height="9.47" fill="#4200ac"/>
<rect x="287.73" y="111.04" width="11.43" height="9.47" fill="#4200ac"/>
<rect x="230.85" y="120.46" width="11.43" height="9.47" fill="#c21a00"/>
<rect x="242.22" y="120.46" width="11.43" height="9.47" fill="#e25f5f"/>
<rect x="253.60" y="120.46" width="11.43" height="9.47" fill="#e25f5f"/>
<rect x="264.98" y="120.46" width="11.43" height="9.47" fill="#4200ac"/>
<rect x="276.35" y="120.46" width="11.43" height="9.47" fill="#4200ac"/>
<rect x="287.73" y="120.46" width="11.43" height="9.47" fill="#4200ac"/>
<rect x="230.85" y="129.88" width="11.43" height="9.47" fill="#c21a00"/>
<rect x="242.22" y="129.88" width="11.43" height="9.47" fill="#c21a00"/>
<rect x="253.60" y="129.88" width="11.43" height="9.47" fill="#c21a00"/>
<rect x="264.98" y="129.88" width="11.43" height="9.47" fill="#4200ac"/>
<rect x="276.35" y="129.88" width="11.43" height="9.47" fill="#4200ac"/>
<rect x="287.73" y="129.88" width="11.43" height="9.47" fill="#4200ac"/>
<rect x="230.85" y="139.31" width="11.43" height="9.47" fill="#c21a00"/>
<rect x="242.22" y="139.31" width="11.43" height="9.47" fill="#e25f5f"/>
<rect x="253.60" y="139.31" width="11.43" height="9.47" fill="#e25f5f"/>
<rect x="264.98" y="139.31" width="11.43" height="9.47" fill="#2800d4"/>
<rect x="276.35" y="139.31" width="11.43" height="9.47" fill="#4200ac"/>
<rect x="287.73" y="139.31" width="11.43" height="9.47" fill="#2800d4"/>
<rect x="230.85" y="148.73" width="11.43" height="9.47" fill="#c21a00"/>
<rect x="242.22" y="148.73" width="11.43" height="9.47" fill="#e25f5f"/>
<rect x="253.60" y="148.73" width="11.43" height="9.47" fill="#e25f5f"/>
<rect x="264.98" y="148.73" width="11.43" height="9.47" fill="#4200ac"/>
<rect x="276.35" y="148.73" width="11.43" height="9.47" fill="#4200ac"/>
<rect x="287.73" y="148.73" width="11.43" height="9.47" fill="#4200ac"/>
<rect x="230.85" y="158.15" width="11.43" height="9.47" fill="#c21a00"/>
<rect x="242.22" y="158.15" width="11.43" height="9.47" fill="#e25f5f"/>
<rect x="253.60" y="158.15" width="11.43" height="9.47" fill="#d84646"/>
<rect x="264.98" y="158.15" width="11.43" height="9.47" fill="#4200ac"/>
<rect x="276.35" y="158.15" width="11.43" height="9.47" fill="#6c5af0"/>
<rect x="287.73" y="158.15" width="11.43" height="9.47" fill="#4200ac"/>
<rect x="230.85" y="167.57" width="11.43" height="9.47" fill="#c21a00"/>
<rect x="242.22" y="167.57" width="11.43" height="9.47" fill="#e27080"/>
<rect x="253.60" y="167.57" width="11.43" height="9.47" fill="#e27080"/>
<rect x="264.98" y="167.57" width="11.43" height="9.47" fill="#2800d4"/>
<rect x="276.35" y="167.57" width="11.43" height="9.47" fill="#4200ac"/>
<rect x="287.73" y="167.57" width="11.43" height="9.47" fill="#6c5af0"/>
<rect x="230.85" y="176.99" width="11.43" height="9.47" fill="#c21a00"/>
<rect x="242.22" y="176.99" width="11.43" height="9.47" fill="#d84646"/>
<rect x="253.60" y="176.99" width="11.43" height="9.47" fill="#e25f5f"/>
<rect x="264.98" y="176.99" width="11.43" height="9.47" fill="#4200ac"/>
<rect x="276.35" y="176.99" width="11.43" height="9.47" fill="#4200ac"/>
<rect x="287.73" y="176.99" width="11.43" height="9.47" fill="#4200ac"/>
<rect x="230.85" y="186.41" width="11.43" height="9.47" fill="#c21a00"/>
<rect x="242.22" y="186.41" width="11.43" height="9.47" fill="#e27080"/>
<rect x="253.60" y="186.41" width="11.43" height="9.47" fill="#e27080"/>
<rect x="264.98" y="186.41" width="11.43" height="9.47" fill="#6c5af0"/>
<rect x="276.35" y="186.41" width="11.43" height="9.47" fill="#4200ac"/>
<rect x="287.73" y="186.41" width="11.43" height="9.47" fill="#2800d4"/>
<rect x="230.85" y="195.83" width="11.43" height="9.47" fill="#c21a00"/>
<rect x="242.22" y="195.83" width="11.43" height="9.47" fill="#e27080"/>
<rect x="253.60" y="195.83" width="11.43" height="9.47" fill="#e27080"/>
<rect x="264.98" y="195.83" width="11.43" height="9.47" fill="#4200ac"/>
<rect x="276.35" y="195.83" width="11.43" height="9.47" fill="#4200ac"/>
<rect x="287.73" y="195.83" width="11.43" height="9.47" fill="#2800d4"/>
<rect x="230.85" y="205.25" width="11.43" height="9.47" fill="#2800d4"/>
<rect x="242.22" y="205.25" width="11.43" height="9.47" fill="#c21a00"/>
<rect x="253.60" y="205.25" width="11.43" height="9.47" fill="#e27080"/>
<rect x="264.98" y="205.25" width="11.43" height="9.47" fill="#8a8aff"/>
<rect x="276.35" y="205.25" width="11.43" height="9.47" fill="#4200ac"/>
<rect x="287.73" y="205.25" width="11.43" height="9.47" fill="#2800d4"/>
<rect x="230.85" y="214.67" width="11.43" height="9.47" fill="#c21a00"/>
<rect x="242.22" y="214.67" width="11.43" height="9.47" fill="#d84646"/>
<rect x="253.60" y="214.67" width="11.43" height="9.47" fill="#e25f5f"/>
<rect x="264.98" y="214.67" width="11.43" height="9.47" fill="#4200ac"/>
<rect x="276.35" y="214.67" width="11.43" height="9.47" fill="#4200ac"/>
<rect x="287.73" y="214.67" width="11.43" height="9.47" fill="#4200ac"/>
<rect x="230.85" y="224.09" width="11.43" height="9.47" fill="#d84646"/>
<rect x="242.22" y="224.09" width="11.43" height="9.47" fill="#c21a00"/>
<rect x="253.60" y="224.09" width="11.43" height="9.47" fill="#c21a00"/>
<rect x="264.98" y="224.09" width="11.43" height="9.47" fill="#4200ac"/>
<rect x="276.35" y="224.09" width="11.43" height="9.47" fill="#4200ac"/>
<rect x="287.73" y="224.09" width="11.43" height="9.47" fill="#2800d4"/>
<rect x="230.85" y="233.52" width="11.43" height="9.47" fill="#c21a00"/>
<rect x="242.22" y="233.52" width="11.43" height="9.47" fill="#c21a00"/>
<rect x="253.60" y="233.52" width="11.43" height="9.47" fill="#e27080"/>
<rect x="264.98" y="233.52" width="11.43" height="9.47" fill="#4200ac"/>
<rect x="276.35" y="233.52" width="11.43" height="9.47" fill="#4200ac"/>
<rect x="287.73" y="233.52" width="11.43" height="9.47" fill="#2800d4"/>
<rect x="230.85" y="242.94" width="11.43" height="9.47" fill="#c21a00"/>
<rect x="242.22" y="242.94" width="11.43" height="9.47" fill="#d84646"/>
<rect x="253.60" y="242.94" width="11.43" height="9.47" fill="#e27080"/>
<rect x="264.98" y="242.94" width="11.43" height="9.47" fill="#2800d4"/>
<rect x="276.35" y="242.94" width="11.43" height="9.47" fill="#4200ac"/>
<rect x="287.73" y="242.94" width="11.43" height="9.47" fill="#4200ac"/>
<rect x="230.85" y="252.36" width="11.43" height="9.47" fill="#c21a00"/>
<rect x="242.22" y="252.36" width="11.43" height="9.47" fill="#c21a00"/>
<rect x="253.60" y="252.36" width="11.43" height="9.47" fill="#c21a00"/>
<rect x="264.98" y="252.36" width="11.43" height="9.47" fill="#4200ac"/>
<rect x="276.35" y="252.36" width="11.43" height="9.47" fill="#4200ac"/>
<rect x="287.73" y="252.36" width="11.43" height="9.47" fill="#4200ac"/>
<rect x="230.85" y="261.78" width="11.43" height="9.47" fill="#c21a00"/>
<rect x="242.22" y="261.78" width="11.43" height="9.47" fill="#e27080"/>
<rect x="253.60" y="261.78" width="11.43" height="9.47" fill="#e25f5f"/>
<rect x="264.98" y="261.78" width="11.43" height="9.47" fill="#4200ac"/>
<rect x="276.35" y="261.78" width="11.43" height="9.47" fill="#4200ac"/>
<rect x="287.73" y="261.78" width="11.43" height="9.47" fill="#4200ac"/>
<rect x="230.85" y="271.20" width="11.43" height="9.47" fill="#c21a00"/>
<rect x="242.22" y="271.20" width="11.43" height="9.47" fill="#d84646"/>
<rect x="253.60" y="271.20" width="11.43" height="9.47" fill="#e27080"/>
<rect x="264.98" y="271.20" width="11.43" height="9.47" fill="#4200ac"/>
<rect x="276.35" y="271.20" width="11.43" height="9.47" fill="#4200ac"/>
<rect x="287.73" y="271.20" width="11.43" height="9.47" fill="#4200ac"/>
<rect x="230.85" y="280.62" width="11.43" height="9.47" fill="#c21a00"/>
<rect x="242.22" y="280.62" width="11.43" height="9.47" fill="#c21a00"/>
<rect x="253.60" y="280.62" width="11.43" height="9.47" fill="#c21a00"/>
<rect x="264.98" y="280.62" width="11.43" height="9.47" fill="#4200ac"/>
<rect x="276.35" y="280.62" width="11.43" height="9.47" fill="#4200ac"/>
<rect x="287.73" y="280.62" width="11.43" height="9.47" fill="#2800d4"/>
<rect x="230.85" y="290.04" width="11.43" height="9.47" fill="#e27080"/>
<rect x="242.22" y="290.04" width="11.43" height="9.47" fill="#c21a00"/>
<rect x="253.60" y="290.04" width="11.43" height="9.47" fill="#c21a00"/>
<rect x="264.98" y="290.04" width="11.43" height="9.47" fill="#4200ac"/>
<rect x="276.35" y="290.04" width="11.43" height="9.47" fill="#4200ac"/>
<rect x="287.73" y="290.04" width="11.43" height="9.47" fill="#2800d4"/>
<rect x="230.85" y="299.46" width="11.43" height="9.47" fill="#c21a00"/>
<rect x="242.22" y="299.46" width="11.43" height="9.47" fill="#d84646"/>
<rect x="253.60" y="299.46" width="11.43" height="9.47" fill="#c21a00"/>
<rect x="264.98" y="299.46" width="11.43" height="9.47" fill="#2800d4"/>
<rect x="276.35" y="299.46" width="11.43" height="9.47" fill="#6c5af0"/>
<rect x="287.73" y="299.46" width="11.43" height="9.47" fill="#4200ac"/>
<rect x="230.85" y="308.88" width="11.43" height="9.47" fill="#c21a00"/>
<rect x="242.22" y="308.88" width="11.43" height="9.47" fill="#e27080"/>
<rect x="253.60" y="308.88" width="11.43" height="9.47" fill="#d84646"/>
<rect x="264.98" y="308.88" width="11.43" height="9.47" fill="#4200ac"/>
<rect x="276.35" y="308.88" width="11.43" height="9.47" fill="#4200ac"/>
<rect x="287.73" y="308.88" width="11.43" height="9.47" fill="#2800d4"/>
<rect x="230.85" y="318.30" width="11.43" height="9.47" fill="#c21a00"/>
<rect x="242.22" y="318.30" width="11.43" height="9.47" fill="#d84646"/>
<rect x="253.60" y="318.30" width="11.43" height="9.47" fill="#c21a00"/>
<rect x="264.98" y="318.30" width="11.43" height="9.47" fill="#4200ac"/>
<rect x="276.35" y="318.30" width="11.43" height="9.47" fill="#4200ac"/>
<rect x="287.73" y="318.30" width="11.43" height="9.47" fill="#4200ac"/>
<rect x="230.85" y="327.73" width="11.43" height="9.47" fill="#e25f5f"/>
<rect x="242.22" y="327.73" width="11.43" height="9.47" fill="#c21a00"/>
<rect x="253.60" y="327.73" width="11.43" height="9.47" fill="#e27080"/>
<rect x="264.98" y="327.73" width="11.43" height="9.47" fill="#2800d4"/>
<rect x="276.35" y="327.73" width="11.43" height="9.47" fill="#4200ac"/>
<rect x="287.73" y="327.73" width="11.43" height="9.47" fill="#6c5af0"/>
<rect x="230.85" y="337.15" width="11.43" height="9.47" fill="#e25f5f"/>
<rect x="242.22" y="337.15" width="11.43" height="9.47" fill="#c21a00"/>
<rect x="253.60" y="337.15" width="11.43" height="9.47" fill="#d84646"/>
<rect x="264.98" y="337.15" width="11.43" height="9.47" fill="#4200ac"/>
<rect x="276.35" y="337.15" width="11.43" height="9.47" fill="#2800d4"/>
<rect x="287.73" y="337.15" width="11.43" height="9.47" fill="#4200ac"/>
<rect x="230.85" y="346.57" width="11.43" height="9.47" fill="#c21a00"/>
<rect x="242.22" y="346.57" width="11.43" height="9.47" fill="#c21a00"/>
<rect x="253.60" y="346.57" width="11.43" height="9.47" fill="#d84646"/>
<rect x="264.98" y="346.57" width="11.43" height="9.47" fill="#4200ac"/>
<rect x="276.35" y="346.57" width="11.43" height="9.47" fill="#6c5af0"/>
<rect x="287.73" y="346.57" width="11.43" height="9.47" fill="#4200ac"/>
<rect x="230.85" y="355.99" width="11.43" height="8.46" fill="#f0c0e4"/>
<rect x="242.22" y="355.99" width="11.43" height="8.46" fill="#c21a00"/>
<rect x="253.60" y="355.99" width="11.43" height="8.46" fill="#8a8aff"/>
<rect x="264.98" y="355.99" width="11.43" height="8.46" fill="#4200ac"/>
<rect x="276.35" y="355.99" width="11.43" height="8.46" fill="#2800d4"/>
<rect x="287.73" y="355.99" width="11.43" height="8.46" fill="#d8d8ff"/>
<rect x="241.53" y="83.60" width="1.15" height="280.80" fill="#111"/>
<rect x="252.90" y="83.60" width="1.15" height="280.80" fill="#111"/>
<rect x="264.27" y="83.60" width="1.15" height="280.80" fill="#111"/>
<rect x="275.65" y="83.60" width="1.15" height="280.80" fill="#111"/>
<rect x="287.02" y="83.60" width="1.15" height="280.80" fill="#111"/>
<rect x="230.85" y="91.60" width="68.25" height="1.15" fill="#111"/>
<rect x="230.85" y="101.02" width="68.25" height="1.15" fill="#111"/>
<rect x="230.85" y="110.44" width="68.25" height="1.15" fill="#111"/>
<rect x="230.85" y="119.86" width="68.25" height="1.15" fill="#111"/>
<rect x="230.85" y="129.28" width="68.25" height="1.15" fill="#111"/>
<rect x="230.85" y="138.71" width="68.25" height="1.15" fill="#111"/>
<rect x="230.85" y="148.13" width="68.25" height="1.15" fill="#111"/>
<rect x="230.85" y="157.55" width="68.25" height="1.15" fill="#111"/>
<rect x="230.85" y="166.97" width="68.25" height="1.15" fill="#111"/>
<rect x="230.85" y="176.39" width="68.25" height="1.15" fill="#111"/>
<rect x="230.85" y="185.81" width="68.25" height="1.15" fill="#111"/>
<rect x="230.85" y="195.23" width="68.25" height="1.15" fill="#111"/>
<rect x="230.85" y="204.65" width="68.25" height="1.15" fill="#111"/>
<rect x="230.85" y="214.07" width="68.25" height="1.15" fill="#111"/>
<rect x="230.85" y="223.50" width="68.25" height="1.15" fill="#111"/>
<rect x="230.85" y="232.92" width="68.25" height="1.15" fill="#111"/>
<rect x="230.85" y="242.34" width="68.25" height="1.15" fill="#111"/>
<rect x="230.85" y="251.76" width="68.25" height="1.15" fill="#111"/>
<rect x="230.85" y="261.18" width="68.25" height="1.15" fill="#111"/>
<rect x="230.85" y="270.60" width="68.25" height="1.15" fill="#111"/>
<rect x="230.85" y="280.02" width="68.25" height="1.15" fill="#111"/>
<rect x="230.85" y="289.44" width="68.25" height="1.15" fill="#111"/>
<rect x="230.85" y="298.86" width="68.25" height="1.15" fill="#111"/>
<rect x="230.85" y="308.28" width="68.25" height="1.15" fill="#111"/>
<rect x="230.85" y="317.70" width="68.25" height="1.15" fill="#111"/>
<rect x="230.85" y="327.13" width="68.25" height="1.15" fill="#111"/>
<rect x="230.85" y="336.55" width="68.25" height="1.15" fill="#111"/>
<rect x="230.85" y="345.97" width="68.25" height="1.15" fill="#111"/>
<rect x="230.85" y="355.39" width="68.25" height="1.15" fill="#111"/>
<text x="303.7" y="91.00" class="g">ELANE</text>
<text x="303.7" y="100.43" class="g">PRTN3</text>
<text x="303.7" y="109.86" class="g">MPO</text>
<text x="303.7" y="119.29" class="g">CSF1R</text>
<text x="303.7" y="128.72" class="g">CTSG</text>
<text x="303.7" y="138.16" class="g">IRF8</text>
<text x="303.7" y="147.59" class="g">FCGR3</text>
<text x="303.7" y="157.02" class="g">CEBPE</text>
<text x="303.7" y="166.45" class="g">MPEG1</text>
<text x="303.7" y="175.88" class="g">TREM3</text>
<text x="303.7" y="185.31" class="g">CEBPA</text>
<text x="303.7" y="194.74" class="g">GFI1</text>
<text x="303.7" y="204.17" class="g">CLEC5A</text>
<text x="303.7" y="213.60" class="g">KLF2</text>
<text x="303.7" y="223.03" class="g">CCL9</text>
<text x="303.7" y="232.46" class="g">CSF3R</text>
<text x="303.7" y="241.90" class="g">LYZ2</text>
<text x="303.7" y="251.33" class="g">RGCC</text>
<text x="303.7" y="260.76" class="g">SPI1</text>
<text x="303.7" y="270.19" class="g">LGALS3</text>
<text x="303.7" y="279.62" class="g">ANXA1</text>
<text x="303.7" y="289.05" class="g">ANXA2</text>
<text x="303.7" y="298.48" class="g">FCER1G</text>
<text x="303.7" y="307.91" class="g">FAM20C</text>
<text x="303.7" y="317.34" class="g">CSF2RA</text>
<text x="303.7" y="326.77" class="g">FES</text>
<text x="303.7" y="336.21" class="g">ITGAM</text>
<text x="303.7" y="345.64" class="g">CD34</text>
<text x="303.7" y="355.07" class="g">L3MBTL3</text>
<text x="303.7" y="364.50" class="g">LCN2</text>
<text transform="translate(239.54,78.5) rotate(-90)" class="g">WT-1</text>
<text transform="translate(250.91,78.5) rotate(-90)" class="g">WT-2</text>
<text transform="translate(262.29,78.5) rotate(-90)" class="g">WT-3</text>
<text transform="translate(273.66,78.5) rotate(-90)" class="g">KO-1</text>
<text transform="translate(285.04,78.5) rotate(-90)" class="g">KO-2</text>
<text transform="translate(296.41,78.5) rotate(-90)" class="g">KO-3</text>
<rect x="365.60" y="84.00" width="11.37" height="8.85" fill="#4200ac"/>
<rect x="376.92" y="84.00" width="11.37" height="8.85" fill="#c8c2ff"/>
<rect x="388.23" y="84.00" width="11.37" height="8.85" fill="#c21a00"/>
<rect x="399.55" y="84.00" width="11.37" height="8.85" fill="#e27080"/>
<rect x="410.87" y="84.00" width="11.37" height="8.85" fill="#e68989"/>
<rect x="422.18" y="84.00" width="11.37" height="8.85" fill="#c21a00"/>
<rect x="365.60" y="92.80" width="11.37" height="9.41" fill="#4200ac"/>
<rect x="376.92" y="92.80" width="11.37" height="9.41" fill="#e25f5f"/>
<rect x="388.23" y="92.80" width="11.37" height="9.41" fill="#d8d8ff"/>
<rect x="399.55" y="92.80" width="11.37" height="9.41" fill="#e68989"/>
<rect x="410.87" y="92.80" width="11.37" height="9.41" fill="#c21a00"/>
<rect x="422.18" y="92.80" width="11.37" height="9.41" fill="#d8d8ff"/>
<rect x="365.60" y="102.16" width="11.37" height="9.41" fill="#d8d8ff"/>
<rect x="376.92" y="102.16" width="11.37" height="9.41" fill="#4200ac"/>
<rect x="388.23" y="102.16" width="11.37" height="9.41" fill="#2800d4"/>
<rect x="399.55" y="102.16" width="11.37" height="9.41" fill="#e25f5f"/>
<rect x="410.87" y="102.16" width="11.37" height="9.41" fill="#c21a00"/>
<rect x="422.18" y="102.16" width="11.37" height="9.41" fill="#c8c2ff"/>
<rect x="365.60" y="111.52" width="11.37" height="9.41" fill="#d8d8ff"/>
<rect x="376.92" y="111.52" width="11.37" height="9.41" fill="#8a8aff"/>
<rect x="388.23" y="111.52" width="11.37" height="9.41" fill="#4200ac"/>
<rect x="399.55" y="111.52" width="11.37" height="9.41" fill="#c21a00"/>
<rect x="410.87" y="111.52" width="11.37" height="9.41" fill="#c21a00"/>
<rect x="422.18" y="111.52" width="11.37" height="9.41" fill="#d8d8ff"/>
<rect x="365.60" y="120.88" width="11.37" height="9.41" fill="#4200ac"/>
<rect x="376.92" y="120.88" width="11.37" height="9.41" fill="#2800d4"/>
<rect x="388.23" y="120.88" width="11.37" height="9.41" fill="#6c5af0"/>
<rect x="399.55" y="120.88" width="11.37" height="9.41" fill="#e25f5f"/>
<rect x="410.87" y="120.88" width="11.37" height="9.41" fill="#c21a00"/>
<rect x="422.18" y="120.88" width="11.37" height="9.41" fill="#d84646"/>
<rect x="365.60" y="130.25" width="11.37" height="9.41" fill="#4200ac"/>
<rect x="376.92" y="130.25" width="11.37" height="9.41" fill="#2800d4"/>
<rect x="388.23" y="130.25" width="11.37" height="9.41" fill="#4200ac"/>
<rect x="399.55" y="130.25" width="11.37" height="9.41" fill="#e27080"/>
<rect x="410.87" y="130.25" width="11.37" height="9.41" fill="#e27080"/>
<rect x="422.18" y="130.25" width="11.37" height="9.41" fill="#c21a00"/>
<rect x="365.60" y="139.61" width="11.37" height="9.41" fill="#6c5af0"/>
<rect x="376.92" y="139.61" width="11.37" height="9.41" fill="#4200ac"/>
<rect x="388.23" y="139.61" width="11.37" height="9.41" fill="#4200ac"/>
<rect x="399.55" y="139.61" width="11.37" height="9.41" fill="#e27080"/>
<rect x="410.87" y="139.61" width="11.37" height="9.41" fill="#e25f5f"/>
<rect x="422.18" y="139.61" width="11.37" height="9.41" fill="#c21a00"/>
<rect x="365.60" y="148.97" width="11.37" height="9.41" fill="#8a8aff"/>
<rect x="376.92" y="148.97" width="11.37" height="9.41" fill="#4200ac"/>
<rect x="388.23" y="148.97" width="11.37" height="9.41" fill="#2800d4"/>
<rect x="399.55" y="148.97" width="11.37" height="9.41" fill="#e27080"/>
<rect x="410.87" y="148.97" width="11.37" height="9.41" fill="#c21a00"/>
<rect x="422.18" y="148.97" width="11.37" height="9.41" fill="#f0c0e4"/>
<rect x="365.60" y="158.33" width="11.37" height="9.41" fill="#8a8aff"/>
<rect x="376.92" y="158.33" width="11.37" height="9.41" fill="#6c5af0"/>
<rect x="388.23" y="158.33" width="11.37" height="9.41" fill="#4200ac"/>
<rect x="399.55" y="158.33" width="11.37" height="9.41" fill="#c21a00"/>
<rect x="410.87" y="158.33" width="11.37" height="9.41" fill="#e25f5f"/>
<rect x="422.18" y="158.33" width="11.37" height="9.41" fill="#e25f5f"/>
<rect x="365.60" y="167.69" width="11.37" height="9.41" fill="#4200ac"/>
<rect x="376.92" y="167.69" width="11.37" height="9.41" fill="#c21a00"/>
<rect x="388.23" y="167.69" width="11.37" height="9.41" fill="#d8d8ff"/>
<rect x="399.55" y="167.69" width="11.37" height="9.41" fill="#e25f5f"/>
<rect x="410.87" y="167.69" width="11.37" height="9.41" fill="#d8d8ff"/>
<rect x="422.18" y="167.69" width="11.37" height="9.41" fill="#e27080"/>
<rect x="365.60" y="177.05" width="11.37" height="9.41" fill="#4200ac"/>
<rect x="376.92" y="177.05" width="11.37" height="9.41" fill="#c8c2ff"/>
<rect x="388.23" y="177.05" width="11.37" height="9.41" fill="#c8c2ff"/>
<rect x="399.55" y="177.05" width="11.37" height="9.41" fill="#e27080"/>
<rect x="410.87" y="177.05" width="11.37" height="9.41" fill="#d84646"/>
<rect x="422.18" y="177.05" width="11.37" height="9.41" fill="#c21a00"/>
<rect x="365.60" y="186.41" width="11.37" height="9.41" fill="#4200ac"/>
<rect x="376.92" y="186.41" width="11.37" height="9.41" fill="#d8d8ff"/>
<rect x="388.23" y="186.41" width="11.37" height="9.41" fill="#6c5af0"/>
<rect x="399.55" y="186.41" width="11.37" height="9.41" fill="#c21a00"/>
<rect x="410.87" y="186.41" width="11.37" height="9.41" fill="#e25f5f"/>
<rect x="422.18" y="186.41" width="11.37" height="9.41" fill="#c21a00"/>
<rect x="365.60" y="195.77" width="11.37" height="9.41" fill="#6c5af0"/>
<rect x="376.92" y="195.77" width="11.37" height="9.41" fill="#6c5af0"/>
<rect x="388.23" y="195.77" width="11.37" height="9.41" fill="#4200ac"/>
<rect x="399.55" y="195.77" width="11.37" height="9.41" fill="#c21a00"/>
<rect x="410.87" y="195.77" width="11.37" height="9.41" fill="#d84646"/>
<rect x="422.18" y="195.77" width="11.37" height="9.41" fill="#c21a00"/>
<rect x="365.60" y="205.13" width="11.37" height="9.41" fill="#4200ac"/>
<rect x="376.92" y="205.13" width="11.37" height="9.41" fill="#2800d4"/>
<rect x="388.23" y="205.13" width="11.37" height="9.41" fill="#6c5af0"/>
<rect x="399.55" y="205.13" width="11.37" height="9.41" fill="#e68989"/>
<rect x="410.87" y="205.13" width="11.37" height="9.41" fill="#c21a00"/>
<rect x="422.18" y="205.13" width="11.37" height="9.41" fill="#e25f5f"/>
<rect x="365.60" y="214.49" width="11.37" height="9.41" fill="#2800d4"/>
<rect x="376.92" y="214.49" width="11.37" height="9.41" fill="#4200ac"/>
<rect x="388.23" y="214.49" width="11.37" height="9.41" fill="#2800d4"/>
<rect x="399.55" y="214.49" width="11.37" height="9.41" fill="#e68989"/>
<rect x="410.87" y="214.49" width="11.37" height="9.41" fill="#c21a00"/>
<rect x="422.18" y="214.49" width="11.37" height="9.41" fill="#e25f5f"/>
<rect x="365.60" y="223.86" width="11.37" height="9.41" fill="#4200ac"/>
<rect x="376.92" y="223.86" width="11.37" height="9.41" fill="#8a8aff"/>
<rect x="388.23" y="223.86" width="11.37" height="9.41" fill="#8a8aff"/>
<rect x="399.55" y="223.86" width="11.37" height="9.41" fill="#e25f5f"/>
<rect x="410.87" y="223.86" width="11.37" height="9.41" fill="#e27080"/>
<rect x="422.18" y="223.86" width="11.37" height="9.41" fill="#c21a00"/>
<rect x="365.60" y="233.22" width="11.37" height="9.41" fill="#4200ac"/>
<rect x="376.92" y="233.22" width="11.37" height="9.41" fill="#c8c2ff"/>
<rect x="388.23" y="233.22" width="11.37" height="9.41" fill="#8a8aff"/>
<rect x="399.55" y="233.22" width="11.37" height="9.41" fill="#c21a00"/>
<rect x="410.87" y="233.22" width="11.37" height="9.41" fill="#c21a00"/>
<rect x="422.18" y="233.22" width="11.37" height="9.41" fill="#d84646"/>
<rect x="365.60" y="242.58" width="11.37" height="9.41" fill="#6c5af0"/>
<rect x="376.92" y="242.58" width="11.37" height="9.41" fill="#4200ac"/>
<rect x="388.23" y="242.58" width="11.37" height="9.41" fill="#6c5af0"/>
<rect x="399.55" y="242.58" width="11.37" height="9.41" fill="#c21a00"/>
<rect x="410.87" y="242.58" width="11.37" height="9.41" fill="#d8d8ff"/>
<rect x="422.18" y="242.58" width="11.37" height="9.41" fill="#e25f5f"/>
<rect x="365.60" y="251.94" width="11.37" height="9.41" fill="#4200ac"/>
<rect x="376.92" y="251.94" width="11.37" height="9.41" fill="#6c5af0"/>
<rect x="388.23" y="251.94" width="11.37" height="9.41" fill="#6c5af0"/>
<rect x="399.55" y="251.94" width="11.37" height="9.41" fill="#c21a00"/>
<rect x="410.87" y="251.94" width="11.37" height="9.41" fill="#c21a00"/>
<rect x="422.18" y="251.94" width="11.37" height="9.41" fill="#c21a00"/>
<rect x="365.60" y="261.30" width="11.37" height="9.41" fill="#4200ac"/>
<rect x="376.92" y="261.30" width="11.37" height="9.41" fill="#e27080"/>
<rect x="388.23" y="261.30" width="11.37" height="9.41" fill="#8a8aff"/>
<rect x="399.55" y="261.30" width="11.37" height="9.41" fill="#c21a00"/>
<rect x="410.87" y="261.30" width="11.37" height="9.41" fill="#d8d8ff"/>
<rect x="422.18" y="261.30" width="11.37" height="9.41" fill="#e25f5f"/>
<rect x="365.60" y="270.66" width="11.37" height="9.41" fill="#4200ac"/>
<rect x="376.92" y="270.66" width="11.37" height="9.41" fill="#4200ac"/>
<rect x="388.23" y="270.66" width="11.37" height="9.41" fill="#4200ac"/>
<rect x="399.55" y="270.66" width="11.37" height="9.41" fill="#c21a00"/>
<rect x="410.87" y="270.66" width="11.37" height="9.41" fill="#c21a00"/>
<rect x="422.18" y="270.66" width="11.37" height="9.41" fill="#d84646"/>
<rect x="365.60" y="280.02" width="11.37" height="9.41" fill="#4200ac"/>
<rect x="376.92" y="280.02" width="11.37" height="9.41" fill="#6c5af0"/>
<rect x="388.23" y="280.02" width="11.37" height="9.41" fill="#8a8aff"/>
<rect x="399.55" y="280.02" width="11.37" height="9.41" fill="#c21a00"/>
<rect x="410.87" y="280.02" width="11.37" height="9.41" fill="#f0c0e4"/>
<rect x="422.18" y="280.02" width="11.37" height="9.41" fill="#e25f5f"/>
<rect x="365.60" y="289.38" width="11.37" height="9.41" fill="#4200ac"/>
<rect x="376.92" y="289.38" width="11.37" height="9.41" fill="#8a8aff"/>
<rect x="388.23" y="289.38" width="11.37" height="9.41" fill="#8a8aff"/>
<rect x="399.55" y="289.38" width="11.37" height="9.41" fill="#c21a00"/>
<rect x="410.87" y="289.38" width="11.37" height="9.41" fill="#c21a00"/>
<rect x="422.18" y="289.38" width="11.37" height="9.41" fill="#c21a00"/>
<rect x="365.60" y="298.74" width="11.37" height="9.41" fill="#4200ac"/>
<rect x="376.92" y="298.74" width="11.37" height="9.41" fill="#8a8aff"/>
<rect x="388.23" y="298.74" width="11.37" height="9.41" fill="#6c5af0"/>
<rect x="399.55" y="298.74" width="11.37" height="9.41" fill="#c21a00"/>
<rect x="410.87" y="298.74" width="11.37" height="9.41" fill="#c21a00"/>
<rect x="422.18" y="298.74" width="11.37" height="9.41" fill="#c21a00"/>
<rect x="365.60" y="308.10" width="11.37" height="9.41" fill="#4200ac"/>
<rect x="376.92" y="308.10" width="11.37" height="9.41" fill="#8a8aff"/>
<rect x="388.23" y="308.10" width="11.37" height="9.41" fill="#6c5af0"/>
<rect x="399.55" y="308.10" width="11.37" height="9.41" fill="#c21a00"/>
<rect x="410.87" y="308.10" width="11.37" height="9.41" fill="#c21a00"/>
<rect x="422.18" y="308.10" width="11.37" height="9.41" fill="#c21a00"/>
<rect x="365.60" y="317.47" width="11.37" height="9.41" fill="#4200ac"/>
<rect x="376.92" y="317.47" width="11.37" height="9.41" fill="#6c5af0"/>
<rect x="388.23" y="317.47" width="11.37" height="9.41" fill="#2800d4"/>
<rect x="399.55" y="317.47" width="11.37" height="9.41" fill="#c21a00"/>
<rect x="410.87" y="317.47" width="11.37" height="9.41" fill="#c21a00"/>
<rect x="422.18" y="317.47" width="11.37" height="9.41" fill="#c21a00"/>
<rect x="365.60" y="326.83" width="11.37" height="9.41" fill="#4200ac"/>
<rect x="376.92" y="326.83" width="11.37" height="9.41" fill="#8a8aff"/>
<rect x="388.23" y="326.83" width="11.37" height="9.41" fill="#8a8aff"/>
<rect x="399.55" y="326.83" width="11.37" height="9.41" fill="#c21a00"/>
<rect x="410.87" y="326.83" width="11.37" height="9.41" fill="#c21a00"/>
<rect x="422.18" y="326.83" width="11.37" height="9.41" fill="#c21a00"/>
<rect x="365.60" y="336.19" width="11.37" height="9.41" fill="#4200ac"/>
<rect x="376.92" y="336.19" width="11.37" height="9.41" fill="#6c5af0"/>
<rect x="388.23" y="336.19" width="11.37" height="9.41" fill="#2800d4"/>
<rect x="399.55" y="336.19" width="11.37" height="9.41" fill="#c21a00"/>
<rect x="410.87" y="336.19" width="11.37" height="9.41" fill="#d84646"/>
<rect x="422.18" y="336.19" width="11.37" height="9.41" fill="#c21a00"/>
<rect x="365.60" y="345.55" width="11.37" height="9.41" fill="#4200ac"/>
<rect x="376.92" y="345.55" width="11.37" height="9.41" fill="#2800d4"/>
<rect x="388.23" y="345.55" width="11.37" height="9.41" fill="#4200ac"/>
<rect x="399.55" y="345.55" width="11.37" height="9.41" fill="#c21a00"/>
<rect x="410.87" y="345.55" width="11.37" height="9.41" fill="#c21a00"/>
<rect x="422.18" y="345.55" width="11.37" height="9.41" fill="#c21a00"/>
<rect x="365.60" y="354.91" width="11.37" height="9.34" fill="#4200ac"/>
<rect x="376.92" y="354.91" width="11.37" height="9.34" fill="#4200ac"/>
<rect x="388.23" y="354.91" width="11.37" height="9.34" fill="#4200ac"/>
<rect x="399.55" y="354.91" width="11.37" height="9.34" fill="#c21a00"/>
<rect x="410.87" y="354.91" width="11.37" height="9.34" fill="#d84646"/>
<rect x="422.18" y="354.91" width="11.37" height="9.34" fill="#c21a00"/>
<rect x="376.22" y="84.00" width="1.15" height="280.20" fill="#111"/>
<rect x="387.53" y="84.00" width="1.15" height="280.20" fill="#111"/>
<rect x="398.85" y="84.00" width="1.15" height="280.20" fill="#111"/>
<rect x="410.17" y="84.00" width="1.15" height="280.20" fill="#111"/>
<rect x="421.48" y="84.00" width="1.15" height="280.20" fill="#111"/>
<rect x="365.60" y="92.20" width="67.90" height="1.15" fill="#111"/>
<rect x="365.60" y="101.56" width="67.90" height="1.15" fill="#111"/>
<rect x="365.60" y="110.92" width="67.90" height="1.15" fill="#111"/>
<rect x="365.60" y="120.28" width="67.90" height="1.15" fill="#111"/>
<rect x="365.60" y="129.65" width="67.90" height="1.15" fill="#111"/>
<rect x="365.60" y="139.01" width="67.90" height="1.15" fill="#111"/>
<rect x="365.60" y="148.37" width="67.90" height="1.15" fill="#111"/>
<rect x="365.60" y="157.73" width="67.90" height="1.15" fill="#111"/>
<rect x="365.60" y="167.09" width="67.90" height="1.15" fill="#111"/>
<rect x="365.60" y="176.45" width="67.90" height="1.15" fill="#111"/>
<rect x="365.60" y="185.81" width="67.90" height="1.15" fill="#111"/>
<rect x="365.60" y="195.17" width="67.90" height="1.15" fill="#111"/>
<rect x="365.60" y="204.53" width="67.90" height="1.15" fill="#111"/>
<rect x="365.60" y="213.89" width="67.90" height="1.15" fill="#111"/>
<rect x="365.60" y="223.26" width="67.90" height="1.15" fill="#111"/>
<rect x="365.60" y="232.62" width="67.90" height="1.15" fill="#111"/>
<rect x="365.60" y="241.98" width="67.90" height="1.15" fill="#111"/>
<rect x="365.60" y="251.34" width="67.90" height="1.15" fill="#111"/>
<rect x="365.60" y="260.70" width="67.90" height="1.15" fill="#111"/>
<rect x="365.60" y="270.06" width="67.90" height="1.15" fill="#111"/>
<rect x="365.60" y="279.42" width="67.90" height="1.15" fill="#111"/>
<rect x="365.60" y="288.78" width="67.90" height="1.15" fill="#111"/>
<rect x="365.60" y="298.14" width="67.90" height="1.15" fill="#111"/>
<rect x="365.60" y="307.50" width="67.90" height="1.15" fill="#111"/>
<rect x="365.60" y="316.87" width="67.90" height="1.15" fill="#111"/>
<rect x="365.60" y="326.23" width="67.90" height="1.15" fill="#111"/>
<rect x="365.60" y="335.59" width="67.90" height="1.15" fill="#111"/>
<rect x="365.60" y="344.95" width="67.90" height="1.15" fill="#111"/>
<rect x="365.60" y="354.31" width="67.90" height="1.15" fill="#111"/>
<rect x="365.30" y="84.00" width="0.7" height="280.50" fill="#303838"/>
<rect x="365.30" y="363.90" width="68.20" height="0.7" fill="#303838"/>
<text x="438.7" y="90.10" class="g">NAB2</text>
<text x="438.7" y="99.54" class="g">TSC22D1</text>
<text x="438.7" y="108.99" class="g">SMAD1</text>
<text x="438.7" y="118.44" class="g">TFCP2L1</text>
<text x="438.7" y="127.88" class="g">IRF6</text>
<text x="438.7" y="137.32" class="g">PAX9</text>
<text x="438.7" y="146.77" class="g">PIAS3</text>
<text x="438.7" y="156.22" class="g">TEAD2</text>
<text x="438.7" y="165.66" class="g">BACH1</text>
<text x="438.7" y="175.10" class="g">JUN</text>
<text x="438.7" y="184.55" class="g">PBX3</text>
<text x="438.7" y="194.00" class="g">NFE2</text>
<text x="438.7" y="203.44" class="g">ARNT2</text>
<text x="438.7" y="212.88" class="g">HIC1</text>
<text x="438.7" y="222.33" class="g">AR</text>
<text x="438.7" y="231.78" class="g">PF4</text>
<text x="438.7" y="241.22" class="g">PTRF</text>
<text x="438.7" y="250.66" class="g">SPIB</text>
<text x="438.7" y="260.11" class="g">MLLT3</text>
<text x="438.7" y="269.56" class="g">EGR1</text>
<text x="438.7" y="279.00" class="g">EPOR</text>
<text x="438.7" y="288.44" class="g">PAX5</text>
<text x="438.7" y="297.89" class="g">MEIS1</text>
<text x="438.7" y="307.34" class="g">APOE</text>
<text x="438.7" y="316.78" class="g">GATA2</text>
<text x="438.7" y="326.23" class="g">GFI1B</text>
<text x="438.7" y="335.67" class="g">ZFPM1</text>
<text x="438.7" y="345.12" class="g">CAR2</text>
<text x="438.7" y="354.56" class="g">GATA1</text>
<text x="438.7" y="364.00" class="g">CAR1</text>
<text transform="translate(374.26,78.5) rotate(-90)" class="g">WT-1</text>
<text transform="translate(385.58,78.5) rotate(-90)" class="g">WT-2</text>
<text transform="translate(396.89,78.5) rotate(-90)" class="g">WT-3</text>
<text transform="translate(408.21,78.5) rotate(-90)" class="g">KO-1</text>
<text transform="translate(419.52,78.5) rotate(-90)" class="g">KO-2</text>
<text transform="translate(430.84,78.5) rotate(-90)" class="g">KO-3</text>
<rect x="235.10" y="461.20" width="11.37" height="8.65" fill="#c21a00"/>
<rect x="246.42" y="461.20" width="11.37" height="8.65" fill="#d84646"/>
<rect x="257.73" y="461.20" width="11.37" height="8.65" fill="#e27080"/>
<rect x="269.05" y="461.20" width="11.37" height="8.65" fill="#2800d4"/>
<rect x="280.37" y="461.20" width="11.37" height="8.65" fill="#2800d4"/>
<rect x="291.68" y="461.20" width="11.37" height="8.65" fill="#4200ac"/>
<rect x="235.10" y="469.80" width="11.37" height="9.71" fill="#c21a00"/>
<rect x="246.42" y="469.80" width="11.37" height="9.71" fill="#d84646"/>
<rect x="257.73" y="469.80" width="11.37" height="9.71" fill="#e25f5f"/>
<rect x="269.05" y="469.80" width="11.37" height="9.71" fill="#4200ac"/>
<rect x="280.37" y="469.80" width="11.37" height="9.71" fill="#4200ac"/>
<rect x="291.68" y="469.80" width="11.37" height="9.71" fill="#4200ac"/>
<rect x="235.10" y="479.46" width="11.37" height="9.71" fill="#c21a00"/>
<rect x="246.42" y="479.46" width="11.37" height="9.71" fill="#d84646"/>
<rect x="257.73" y="479.46" width="11.37" height="9.71" fill="#e25f5f"/>
<rect x="269.05" y="479.46" width="11.37" height="9.71" fill="#4200ac"/>
<rect x="280.37" y="479.46" width="11.37" height="9.71" fill="#4200ac"/>
<rect x="291.68" y="479.46" width="11.37" height="9.71" fill="#2800d4"/>
<rect x="235.10" y="489.12" width="11.37" height="9.71" fill="#c21a00"/>
<rect x="246.42" y="489.12" width="11.37" height="9.71" fill="#d84646"/>
<rect x="257.73" y="489.12" width="11.37" height="9.71" fill="#e68989"/>
<rect x="269.05" y="489.12" width="11.37" height="9.71" fill="#4200ac"/>
<rect x="280.37" y="489.12" width="11.37" height="9.71" fill="#2800d4"/>
<rect x="291.68" y="489.12" width="11.37" height="9.71" fill="#2800d4"/>
<rect x="235.10" y="498.78" width="11.37" height="9.71" fill="#c21a00"/>
<rect x="246.42" y="498.78" width="11.37" height="9.71" fill="#d84646"/>
<rect x="257.73" y="498.78" width="11.37" height="9.71" fill="#e68989"/>
<rect x="269.05" y="498.78" width="11.37" height="9.71" fill="#2800d4"/>
<rect x="280.37" y="498.78" width="11.37" height="9.71" fill="#6c5af0"/>
<rect x="291.68" y="498.78" width="11.37" height="9.71" fill="#4200ac"/>
<rect x="235.10" y="508.44" width="11.37" height="9.71" fill="#c21a00"/>
<rect x="246.42" y="508.44" width="11.37" height="9.71" fill="#d84646"/>
<rect x="257.73" y="508.44" width="11.37" height="9.71" fill="#e68989"/>
<rect x="269.05" y="508.44" width="11.37" height="9.71" fill="#6c5af0"/>
<rect x="280.37" y="508.44" width="11.37" height="9.71" fill="#8a8aff"/>
<rect x="291.68" y="508.44" width="11.37" height="9.71" fill="#4200ac"/>
<rect x="235.10" y="518.11" width="11.37" height="9.71" fill="#c21a00"/>
<rect x="246.42" y="518.11" width="11.37" height="9.71" fill="#c21a00"/>
<rect x="257.73" y="518.11" width="11.37" height="9.71" fill="#e25f5f"/>
<rect x="269.05" y="518.11" width="11.37" height="9.71" fill="#4200ac"/>
<rect x="280.37" y="518.11" width="11.37" height="9.71" fill="#4200ac"/>
<rect x="291.68" y="518.11" width="11.37" height="9.71" fill="#2800d4"/>
<rect x="235.10" y="527.77" width="11.37" height="9.71" fill="#c21a00"/>
<rect x="246.42" y="527.77" width="11.37" height="9.71" fill="#c21a00"/>
<rect x="257.73" y="527.77" width="11.37" height="9.71" fill="#c21a00"/>
<rect x="269.05" y="527.77" width="11.37" height="9.71" fill="#6c5af0"/>
<rect x="280.37" y="527.77" width="11.37" height="9.71" fill="#8a8aff"/>
<rect x="291.68" y="527.77" width="11.37" height="9.71" fill="#4200ac"/>
<rect x="235.10" y="537.43" width="11.37" height="9.71" fill="#c21a00"/>
<rect x="246.42" y="537.43" width="11.37" height="9.71" fill="#e25f5f"/>
<rect x="257.73" y="537.43" width="11.37" height="9.71" fill="#6c5af0"/>
<rect x="269.05" y="537.43" width="11.37" height="9.71" fill="#4200ac"/>
<rect x="280.37" y="537.43" width="11.37" height="9.71" fill="#d8d8ff"/>
<rect x="291.68" y="537.43" width="11.37" height="9.71" fill="#c8c2ff"/>
<rect x="235.10" y="547.09" width="11.37" height="9.71" fill="#c21a00"/>
<rect x="246.42" y="547.09" width="11.37" height="9.71" fill="#c21a00"/>
<rect x="257.73" y="547.09" width="11.37" height="9.71" fill="#e68989"/>
<rect x="269.05" y="547.09" width="11.37" height="9.71" fill="#6c5af0"/>
<rect x="280.37" y="547.09" width="11.37" height="9.71" fill="#6c5af0"/>
<rect x="291.68" y="547.09" width="11.37" height="9.71" fill="#4200ac"/>
<rect x="235.10" y="556.75" width="11.37" height="9.71" fill="#c21a00"/>
<rect x="246.42" y="556.75" width="11.37" height="9.71" fill="#d84646"/>
<rect x="257.73" y="556.75" width="11.37" height="9.71" fill="#8a8aff"/>
<rect x="269.05" y="556.75" width="11.37" height="9.71" fill="#4200ac"/>
<rect x="280.37" y="556.75" width="11.37" height="9.71" fill="#c8c2ff"/>
<rect x="291.68" y="556.75" width="11.37" height="9.71" fill="#6c5af0"/>
<rect x="235.10" y="566.41" width="11.37" height="9.71" fill="#e27080"/>
<rect x="246.42" y="566.41" width="11.37" height="9.71" fill="#e25f5f"/>
<rect x="257.73" y="566.41" width="11.37" height="9.71" fill="#c21a00"/>
<rect x="269.05" y="566.41" width="11.37" height="9.71" fill="#8a8aff"/>
<rect x="280.37" y="566.41" width="11.37" height="9.71" fill="#2800d4"/>
<rect x="291.68" y="566.41" width="11.37" height="9.71" fill="#4200ac"/>
<rect x="235.10" y="576.07" width="11.37" height="9.71" fill="#d84646"/>
<rect x="246.42" y="576.07" width="11.37" height="9.71" fill="#c21a00"/>
<rect x="257.73" y="576.07" width="11.37" height="9.71" fill="#d84646"/>
<rect x="269.05" y="576.07" width="11.37" height="9.71" fill="#c8c2ff"/>
<rect x="280.37" y="576.07" width="11.37" height="9.71" fill="#4200ac"/>
<rect x="291.68" y="576.07" width="11.37" height="9.71" fill="#4200ac"/>
<rect x="235.10" y="585.73" width="11.37" height="9.71" fill="#c21a00"/>
<rect x="246.42" y="585.73" width="11.37" height="9.71" fill="#e25f5f"/>
<rect x="257.73" y="585.73" width="11.37" height="9.71" fill="#e68989"/>
<rect x="269.05" y="585.73" width="11.37" height="9.71" fill="#6c5af0"/>
<rect x="280.37" y="585.73" width="11.37" height="9.71" fill="#6c5af0"/>
<rect x="291.68" y="585.73" width="11.37" height="9.71" fill="#4200ac"/>
<rect x="235.10" y="595.39" width="11.37" height="9.71" fill="#c21a00"/>
<rect x="246.42" y="595.39" width="11.37" height="9.71" fill="#d84646"/>
<rect x="257.73" y="595.39" width="11.37" height="9.71" fill="#c21a00"/>
<rect x="269.05" y="595.39" width="11.37" height="9.71" fill="#2800d4"/>
<rect x="280.37" y="595.39" width="11.37" height="9.71" fill="#8a8aff"/>
<rect x="291.68" y="595.39" width="11.37" height="9.71" fill="#4200ac"/>
<rect x="235.10" y="605.05" width="11.37" height="9.71" fill="#e27080"/>
<rect x="246.42" y="605.05" width="11.37" height="9.71" fill="#e25f5f"/>
<rect x="257.73" y="605.05" width="11.37" height="9.71" fill="#c21a00"/>
<rect x="269.05" y="605.05" width="11.37" height="9.71" fill="#8a8aff"/>
<rect x="280.37" y="605.05" width="11.37" height="9.71" fill="#4200ac"/>
<rect x="291.68" y="605.05" width="11.37" height="9.71" fill="#4200ac"/>
<rect x="235.10" y="614.72" width="11.37" height="9.71" fill="#e68989"/>
<rect x="246.42" y="614.72" width="11.37" height="9.71" fill="#d84646"/>
<rect x="257.73" y="614.72" width="11.37" height="9.71" fill="#c21a00"/>
<rect x="269.05" y="614.72" width="11.37" height="9.71" fill="#4200ac"/>
<rect x="280.37" y="614.72" width="11.37" height="9.71" fill="#c8c2ff"/>
<rect x="291.68" y="614.72" width="11.37" height="9.71" fill="#4200ac"/>
<rect x="235.10" y="624.38" width="11.37" height="9.71" fill="#c21a00"/>
<rect x="246.42" y="624.38" width="11.37" height="9.71" fill="#d84646"/>
<rect x="257.73" y="624.38" width="11.37" height="9.71" fill="#c21a00"/>
<rect x="269.05" y="624.38" width="11.37" height="9.71" fill="#2800d4"/>
<rect x="280.37" y="624.38" width="11.37" height="9.71" fill="#2800d4"/>
<rect x="291.68" y="624.38" width="11.37" height="9.71" fill="#4200ac"/>
<rect x="235.10" y="634.04" width="11.37" height="9.71" fill="#e25f5f"/>
<rect x="246.42" y="634.04" width="11.37" height="9.71" fill="#c21a00"/>
<rect x="257.73" y="634.04" width="11.37" height="9.71" fill="#c21a00"/>
<rect x="269.05" y="634.04" width="11.37" height="9.71" fill="#2800d4"/>
<rect x="280.37" y="634.04" width="11.37" height="9.71" fill="#4200ac"/>
<rect x="291.68" y="634.04" width="11.37" height="9.71" fill="#6c5af0"/>
<rect x="235.10" y="643.70" width="11.37" height="9.71" fill="#c21a00"/>
<rect x="246.42" y="643.70" width="11.37" height="9.71" fill="#e25f5f"/>
<rect x="257.73" y="643.70" width="11.37" height="9.71" fill="#4200ac"/>
<rect x="269.05" y="643.70" width="11.37" height="9.71" fill="#4200ac"/>
<rect x="280.37" y="643.70" width="11.37" height="9.71" fill="#f0c0e4"/>
<rect x="291.68" y="643.70" width="11.37" height="9.71" fill="#d8d8ff"/>
<rect x="235.10" y="653.36" width="11.37" height="9.71" fill="#c21a00"/>
<rect x="246.42" y="653.36" width="11.37" height="9.71" fill="#e27080"/>
<rect x="257.73" y="653.36" width="11.37" height="9.71" fill="#d8d8ff"/>
<rect x="269.05" y="653.36" width="11.37" height="9.71" fill="#4200ac"/>
<rect x="280.37" y="653.36" width="11.37" height="9.71" fill="#c8c2ff"/>
<rect x="291.68" y="653.36" width="11.37" height="9.71" fill="#6c5af0"/>
<rect x="235.10" y="663.02" width="11.37" height="9.71" fill="#c21a00"/>
<rect x="246.42" y="663.02" width="11.37" height="9.71" fill="#c21a00"/>
<rect x="257.73" y="663.02" width="11.37" height="9.71" fill="#c21a00"/>
<rect x="269.05" y="663.02" width="11.37" height="9.71" fill="#6c5af0"/>
<rect x="280.37" y="663.02" width="11.37" height="9.71" fill="#c8c2ff"/>
<rect x="291.68" y="663.02" width="11.37" height="9.71" fill="#4200ac"/>
<rect x="235.10" y="672.68" width="11.37" height="9.71" fill="#c21a00"/>
<rect x="246.42" y="672.68" width="11.37" height="9.71" fill="#e68989"/>
<rect x="257.73" y="672.68" width="11.37" height="9.71" fill="#d8d8ff"/>
<rect x="269.05" y="672.68" width="11.37" height="9.71" fill="#2800d4"/>
<rect x="280.37" y="672.68" width="11.37" height="9.71" fill="#c8c2ff"/>
<rect x="291.68" y="672.68" width="11.37" height="9.71" fill="#4200ac"/>
<rect x="235.10" y="682.34" width="11.37" height="9.71" fill="#c21a00"/>
<rect x="246.42" y="682.34" width="11.37" height="9.71" fill="#e25f5f"/>
<rect x="257.73" y="682.34" width="11.37" height="9.71" fill="#8a8aff"/>
<rect x="269.05" y="682.34" width="11.37" height="9.71" fill="#4200ac"/>
<rect x="280.37" y="682.34" width="11.37" height="9.71" fill="#8a8aff"/>
<rect x="291.68" y="682.34" width="11.37" height="9.71" fill="#2800d4"/>
<rect x="235.10" y="692.00" width="11.37" height="9.71" fill="#c21a00"/>
<rect x="246.42" y="692.00" width="11.37" height="9.71" fill="#e25f5f"/>
<rect x="257.73" y="692.00" width="11.37" height="9.71" fill="#f0c0e4"/>
<rect x="269.05" y="692.00" width="11.37" height="9.71" fill="#6c5af0"/>
<rect x="280.37" y="692.00" width="11.37" height="9.71" fill="#c8c2ff"/>
<rect x="291.68" y="692.00" width="11.37" height="9.71" fill="#4200ac"/>
<rect x="235.10" y="701.66" width="11.37" height="9.71" fill="#d84646"/>
<rect x="246.42" y="701.66" width="11.37" height="9.71" fill="#c21a00"/>
<rect x="257.73" y="701.66" width="11.37" height="9.71" fill="#e25f5f"/>
<rect x="269.05" y="701.66" width="11.37" height="9.71" fill="#8a8aff"/>
<rect x="280.37" y="701.66" width="11.37" height="9.71" fill="#8a8aff"/>
<rect x="291.68" y="701.66" width="11.37" height="9.71" fill="#4200ac"/>
<rect x="235.10" y="711.33" width="11.37" height="9.71" fill="#c21a00"/>
<rect x="246.42" y="711.33" width="11.37" height="9.71" fill="#c21a00"/>
<rect x="257.73" y="711.33" width="11.37" height="9.71" fill="#d84646"/>
<rect x="269.05" y="711.33" width="11.37" height="9.71" fill="#6c5af0"/>
<rect x="280.37" y="711.33" width="11.37" height="9.71" fill="#4200ac"/>
<rect x="291.68" y="711.33" width="11.37" height="9.71" fill="#2800d4"/>
<rect x="235.10" y="720.99" width="11.37" height="9.71" fill="#e25f5f"/>
<rect x="246.42" y="720.99" width="11.37" height="9.71" fill="#c21a00"/>
<rect x="257.73" y="720.99" width="11.37" height="9.71" fill="#e27080"/>
<rect x="269.05" y="720.99" width="11.37" height="9.71" fill="#c8c2ff"/>
<rect x="280.37" y="720.99" width="11.37" height="9.71" fill="#6c5af0"/>
<rect x="291.68" y="720.99" width="11.37" height="9.71" fill="#4200ac"/>
<rect x="235.10" y="730.65" width="11.37" height="9.71" fill="#d84646"/>
<rect x="246.42" y="730.65" width="11.37" height="9.71" fill="#c21a00"/>
<rect x="257.73" y="730.65" width="11.37" height="9.71" fill="#e25f5f"/>
<rect x="269.05" y="730.65" width="11.37" height="9.71" fill="#d8d8ff"/>
<rect x="280.37" y="730.65" width="11.37" height="9.71" fill="#2800d4"/>
<rect x="291.68" y="730.65" width="11.37" height="9.71" fill="#4200ac"/>
<rect x="235.10" y="740.31" width="11.37" height="8.44" fill="#d84646"/>
<rect x="246.42" y="740.31" width="11.37" height="8.44" fill="#c21a00"/>
<rect x="257.73" y="740.31" width="11.37" height="8.44" fill="#e27080"/>
<rect x="269.05" y="740.31" width="11.37" height="8.44" fill="#2800d4"/>
<rect x="280.37" y="740.31" width="11.37" height="8.44" fill="#d8d8ff"/>
<rect x="291.68" y="740.31" width="11.37" height="8.44" fill="#4200ac"/>
<rect x="245.72" y="461.20" width="1.15" height="287.50" fill="#111"/>
<rect x="257.03" y="461.20" width="1.15" height="287.50" fill="#111"/>
<rect x="268.35" y="461.20" width="1.15" height="287.50" fill="#111"/>
<rect x="279.67" y="461.20" width="1.15" height="287.50" fill="#111"/>
<rect x="290.98" y="461.20" width="1.15" height="287.50" fill="#111"/>
<rect x="235.10" y="469.20" width="67.90" height="1.15" fill="#111"/>
<rect x="235.10" y="478.86" width="67.90" height="1.15" fill="#111"/>
<rect x="235.10" y="488.52" width="67.90" height="1.15" fill="#111"/>
<rect x="235.10" y="498.18" width="67.90" height="1.15" fill="#111"/>
<rect x="235.10" y="507.84" width="67.90" height="1.15" fill="#111"/>
<rect x="235.10" y="517.51" width="67.90" height="1.15" fill="#111"/>
<rect x="235.10" y="527.17" width="67.90" height="1.15" fill="#111"/>
<rect x="235.10" y="536.83" width="67.90" height="1.15" fill="#111"/>
<rect x="235.10" y="546.49" width="67.90" height="1.15" fill="#111"/>
<rect x="235.10" y="556.15" width="67.90" height="1.15" fill="#111"/>
<rect x="235.10" y="565.81" width="67.90" height="1.15" fill="#111"/>
<rect x="235.10" y="575.47" width="67.90" height="1.15" fill="#111"/>
<rect x="235.10" y="585.13" width="67.90" height="1.15" fill="#111"/>
<rect x="235.10" y="594.79" width="67.90" height="1.15" fill="#111"/>
<rect x="235.10" y="604.45" width="67.90" height="1.15" fill="#111"/>
<rect x="235.10" y="614.12" width="67.90" height="1.15" fill="#111"/>
<rect x="235.10" y="623.78" width="67.90" height="1.15" fill="#111"/>
<rect x="235.10" y="633.44" width="67.90" height="1.15" fill="#111"/>
<rect x="235.10" y="643.10" width="67.90" height="1.15" fill="#111"/>
<rect x="235.10" y="652.76" width="67.90" height="1.15" fill="#111"/>
<rect x="235.10" y="662.42" width="67.90" height="1.15" fill="#111"/>
<rect x="235.10" y="672.08" width="67.90" height="1.15" fill="#111"/>
<rect x="235.10" y="681.74" width="67.90" height="1.15" fill="#111"/>
<rect x="235.10" y="691.40" width="67.90" height="1.15" fill="#111"/>
<rect x="235.10" y="701.06" width="67.90" height="1.15" fill="#111"/>
<rect x="235.10" y="710.73" width="67.90" height="1.15" fill="#111"/>
<rect x="235.10" y="720.39" width="67.90" height="1.15" fill="#111"/>
<rect x="235.10" y="730.05" width="67.90" height="1.15" fill="#111"/>
<rect x="235.10" y="739.71" width="67.90" height="1.15" fill="#111"/>
<rect x="234.80" y="461.20" width="0.7" height="287.80" fill="#303838"/>
<rect x="234.80" y="748.40" width="68.20" height="0.7" fill="#303838"/>
<text x="307.9" y="468.40" class="g">MPO</text>
<text x="307.9" y="478.07" class="g">CSF1R</text>
<text x="307.9" y="487.73" class="g">IRF8</text>
<text x="307.9" y="497.40" class="g">ELANE</text>
<text x="307.9" y="507.06" class="g">CTSG</text>
<text x="307.9" y="516.73" class="g">PRTN3</text>
<text x="307.9" y="526.40" class="g">IL31RA</text>
<text x="307.9" y="536.06" class="g">GATA2</text>
<text x="307.9" y="545.73" class="g">LCN2</text>
<text x="307.9" y="555.39" class="g">CCL9</text>
<text x="307.9" y="565.06" class="g">LYZ2</text>
<text x="307.9" y="574.73" class="g">KLF2</text>
<text x="307.9" y="584.39" class="g">ZBTB16</text>
<text x="307.9" y="594.06" class="g">CEBPA</text>
<text x="307.9" y="603.72" class="g">ZFPM1</text>
<text x="307.9" y="613.39" class="g">JUN</text>
<text x="307.9" y="623.06" class="g">SOX6</text>
<text x="307.9" y="632.72" class="g">GAB2</text>
<text x="307.9" y="642.39" class="g">RUNX1</text>
<text x="307.9" y="652.05" class="g">MMP9</text>
<text x="307.9" y="661.72" class="g">LGALS3</text>
<text x="307.9" y="671.39" class="g">TGFBR3</text>
<text x="307.9" y="681.05" class="g">ANXA2</text>
<text x="307.9" y="690.72" class="g">ITGAM</text>
<text x="307.9" y="700.38" class="g">CSF3R</text>
<text x="307.9" y="710.05" class="g">KIT</text>
<text x="307.9" y="719.72" class="g">TET2</text>
<text x="307.9" y="729.38" class="g">GATA1</text>
<text x="307.9" y="739.05" class="g">VEGFA</text>
<text x="307.9" y="748.71" class="g">TAL1</text>
<text transform="translate(243.76,456.0) rotate(-90)" class="g">WT-1</text>
<text transform="translate(255.07,456.0) rotate(-90)" class="g">WT-2</text>
<text transform="translate(266.39,456.0) rotate(-90)" class="g">WT-3</text>
<text transform="translate(277.71,456.0) rotate(-90)" class="g">KO-1</text>
<text transform="translate(289.02,456.0) rotate(-90)" class="g">KO-2</text>
<text transform="translate(300.34,456.0) rotate(-90)" class="g">KO-3</text>
<rect x="368.00" y="461.20" width="11.33" height="9.25" fill="#d84646"/>
<rect x="379.28" y="461.20" width="11.33" height="9.25" fill="#d84646"/>
<rect x="390.57" y="461.20" width="11.33" height="9.25" fill="#c21a00"/>
<rect x="401.85" y="461.20" width="11.33" height="9.25" fill="#6c5af0"/>
<rect x="413.13" y="461.20" width="11.33" height="9.25" fill="#2800d4"/>
<rect x="424.42" y="461.20" width="11.33" height="9.25" fill="#4200ac"/>
<rect x="368.00" y="470.40" width="11.33" height="9.66" fill="#c21a00"/>
<rect x="379.28" y="470.40" width="11.33" height="9.66" fill="#c21a00"/>
<rect x="390.57" y="470.40" width="11.33" height="9.66" fill="#e25f5f"/>
<rect x="401.85" y="470.40" width="11.33" height="9.66" fill="#2800d4"/>
<rect x="413.13" y="470.40" width="11.33" height="9.66" fill="#6c5af0"/>
<rect x="424.42" y="470.40" width="11.33" height="9.66" fill="#4200ac"/>
<rect x="368.00" y="480.00" width="11.33" height="9.66" fill="#c21a00"/>
<rect x="379.28" y="480.00" width="11.33" height="9.66" fill="#c21a00"/>
<rect x="390.57" y="480.00" width="11.33" height="9.66" fill="#c21a00"/>
<rect x="401.85" y="480.00" width="11.33" height="9.66" fill="#6c5af0"/>
<rect x="413.13" y="480.00" width="11.33" height="9.66" fill="#8a8aff"/>
<rect x="424.42" y="480.00" width="11.33" height="9.66" fill="#4200ac"/>
<rect x="368.00" y="489.61" width="11.33" height="9.66" fill="#e68989"/>
<rect x="379.28" y="489.61" width="11.33" height="9.66" fill="#c21a00"/>
<rect x="390.57" y="489.61" width="11.33" height="9.66" fill="#c21a00"/>
<rect x="401.85" y="489.61" width="11.33" height="9.66" fill="#c8c2ff"/>
<rect x="413.13" y="489.61" width="11.33" height="9.66" fill="#6c5af0"/>
<rect x="424.42" y="489.61" width="11.33" height="9.66" fill="#4200ac"/>
<rect x="368.00" y="499.22" width="11.33" height="9.66" fill="#c21a00"/>
<rect x="379.28" y="499.22" width="11.33" height="9.66" fill="#d84646"/>
<rect x="390.57" y="499.22" width="11.33" height="9.66" fill="#e27080"/>
<rect x="401.85" y="499.22" width="11.33" height="9.66" fill="#4200ac"/>
<rect x="413.13" y="499.22" width="11.33" height="9.66" fill="#4200ac"/>
<rect x="424.42" y="499.22" width="11.33" height="9.66" fill="#4200ac"/>
<rect x="368.00" y="508.83" width="11.33" height="9.66" fill="#c21a00"/>
<rect x="379.28" y="508.83" width="11.33" height="9.66" fill="#d84646"/>
<rect x="390.57" y="508.83" width="11.33" height="9.66" fill="#c21a00"/>
<rect x="401.85" y="508.83" width="11.33" height="9.66" fill="#2800d4"/>
<rect x="413.13" y="508.83" width="11.33" height="9.66" fill="#8a8aff"/>
<rect x="424.42" y="508.83" width="11.33" height="9.66" fill="#4200ac"/>
<rect x="368.00" y="518.43" width="11.33" height="9.66" fill="#c21a00"/>
<rect x="379.28" y="518.43" width="11.33" height="9.66" fill="#c21a00"/>
<rect x="390.57" y="518.43" width="11.33" height="9.66" fill="#d84646"/>
<rect x="401.85" y="518.43" width="11.33" height="9.66" fill="#8a8aff"/>
<rect x="413.13" y="518.43" width="11.33" height="9.66" fill="#8a8aff"/>
<rect x="424.42" y="518.43" width="11.33" height="9.66" fill="#4200ac"/>
<rect x="368.00" y="528.04" width="11.33" height="9.66" fill="#e27080"/>
<rect x="379.28" y="528.04" width="11.33" height="9.66" fill="#e25f5f"/>
<rect x="390.57" y="528.04" width="11.33" height="9.66" fill="#c21a00"/>
<rect x="401.85" y="528.04" width="11.33" height="9.66" fill="#8a8aff"/>
<rect x="413.13" y="528.04" width="11.33" height="9.66" fill="#4200ac"/>
<rect x="424.42" y="528.04" width="11.33" height="9.66" fill="#4200ac"/>
<rect x="368.00" y="537.65" width="11.33" height="9.66" fill="#c21a00"/>
<rect x="379.28" y="537.65" width="11.33" height="9.66" fill="#d84646"/>
<rect x="390.57" y="537.65" width="11.33" height="9.66" fill="#e27080"/>
<rect x="401.85" y="537.65" width="11.33" height="9.66" fill="#c8c2ff"/>
<rect x="413.13" y="537.65" width="11.33" height="9.66" fill="#6c5af0"/>
<rect x="424.42" y="537.65" width="11.33" height="9.66" fill="#4200ac"/>
<rect x="368.00" y="547.25" width="11.33" height="9.66" fill="#e68989"/>
<rect x="379.28" y="547.25" width="11.33" height="9.66" fill="#e25f5f"/>
<rect x="390.57" y="547.25" width="11.33" height="9.66" fill="#c21a00"/>
<rect x="401.85" y="547.25" width="11.33" height="9.66" fill="#d8d8ff"/>
<rect x="413.13" y="547.25" width="11.33" height="9.66" fill="#2800d4"/>
<rect x="424.42" y="547.25" width="11.33" height="9.66" fill="#4200ac"/>
<rect x="368.00" y="556.86" width="11.33" height="9.66" fill="#e27080"/>
<rect x="379.28" y="556.86" width="11.33" height="9.66" fill="#e25f5f"/>
<rect x="390.57" y="556.86" width="11.33" height="9.66" fill="#c21a00"/>
<rect x="401.85" y="556.86" width="11.33" height="9.66" fill="#2800d4"/>
<rect x="413.13" y="556.86" width="11.33" height="9.66" fill="#c8c2ff"/>
<rect x="424.42" y="556.86" width="11.33" height="9.66" fill="#4200ac"/>
<rect x="368.00" y="566.47" width="11.33" height="9.66" fill="#e25f5f"/>
<rect x="379.28" y="566.47" width="11.33" height="9.66" fill="#c21a00"/>
<rect x="390.57" y="566.47" width="11.33" height="9.66" fill="#e27080"/>
<rect x="401.85" y="566.47" width="11.33" height="9.66" fill="#c8c2ff"/>
<rect x="413.13" y="566.47" width="11.33" height="9.66" fill="#6c5af0"/>
<rect x="424.42" y="566.47" width="11.33" height="9.66" fill="#4200ac"/>
<rect x="368.00" y="576.07" width="11.33" height="9.66" fill="#c21a00"/>
<rect x="379.28" y="576.07" width="11.33" height="9.66" fill="#d84646"/>
<rect x="390.57" y="576.07" width="11.33" height="9.66" fill="#f0c0e4"/>
<rect x="401.85" y="576.07" width="11.33" height="9.66" fill="#4200ac"/>
<rect x="413.13" y="576.07" width="11.33" height="9.66" fill="#4200ac"/>
<rect x="424.42" y="576.07" width="11.33" height="9.66" fill="#2800d4"/>
<rect x="368.00" y="585.68" width="11.33" height="9.66" fill="#c21a00"/>
<rect x="379.28" y="585.68" width="11.33" height="9.66" fill="#e25f5f"/>
<rect x="390.57" y="585.68" width="11.33" height="9.66" fill="#c21a00"/>
<rect x="401.85" y="585.68" width="11.33" height="9.66" fill="#2800d4"/>
<rect x="413.13" y="585.68" width="11.33" height="9.66" fill="#f0c0e4"/>
<rect x="424.42" y="585.68" width="11.33" height="9.66" fill="#4200ac"/>
<rect x="368.00" y="595.29" width="11.33" height="9.66" fill="#c21a00"/>
<rect x="379.28" y="595.29" width="11.33" height="9.66" fill="#f0c0e4"/>
<rect x="390.57" y="595.29" width="11.33" height="9.66" fill="#e27080"/>
<rect x="401.85" y="595.29" width="11.33" height="9.66" fill="#4200ac"/>
<rect x="413.13" y="595.29" width="11.33" height="9.66" fill="#4200ac"/>
<rect x="424.42" y="595.29" width="11.33" height="9.66" fill="#6c5af0"/>
<rect x="368.00" y="604.89" width="11.33" height="9.66" fill="#c21a00"/>
<rect x="379.28" y="604.89" width="11.33" height="9.66" fill="#e68989"/>
<rect x="390.57" y="604.89" width="11.33" height="9.66" fill="#c21a00"/>
<rect x="401.85" y="604.89" width="11.33" height="9.66" fill="#d8d8ff"/>
<rect x="413.13" y="604.89" width="11.33" height="9.66" fill="#6c5af0"/>
<rect x="424.42" y="604.89" width="11.33" height="9.66" fill="#4200ac"/>
<rect x="368.00" y="614.50" width="11.33" height="9.66" fill="#c21a00"/>
<rect x="379.28" y="614.50" width="11.33" height="9.66" fill="#e27080"/>
<rect x="390.57" y="614.50" width="11.33" height="9.66" fill="#c8c2ff"/>
<rect x="401.85" y="614.50" width="11.33" height="9.66" fill="#4200ac"/>
<rect x="413.13" y="614.50" width="11.33" height="9.66" fill="#6c5af0"/>
<rect x="424.42" y="614.50" width="11.33" height="9.66" fill="#8a8aff"/>
<rect x="368.00" y="624.11" width="11.33" height="9.66" fill="#c21a00"/>
<rect x="379.28" y="624.11" width="11.33" height="9.66" fill="#c21a00"/>
<rect x="390.57" y="624.11" width="11.33" height="9.66" fill="#e68989"/>
<rect x="401.85" y="624.11" width="11.33" height="9.66" fill="#8a8aff"/>
<rect x="413.13" y="624.11" width="11.33" height="9.66" fill="#c8c2ff"/>
<rect x="424.42" y="624.11" width="11.33" height="9.66" fill="#4200ac"/>
<rect x="368.00" y="633.72" width="11.33" height="9.66" fill="#e68989"/>
<rect x="379.28" y="633.72" width="11.33" height="9.66" fill="#c21a00"/>
<rect x="390.57" y="633.72" width="11.33" height="9.66" fill="#d84646"/>
<rect x="401.85" y="633.72" width="11.33" height="9.66" fill="#d8d8ff"/>
<rect x="413.13" y="633.72" width="11.33" height="9.66" fill="#4200ac"/>
<rect x="424.42" y="633.72" width="11.33" height="9.66" fill="#2800d4"/>
<rect x="368.00" y="643.32" width="11.33" height="9.66" fill="#e27080"/>
<rect x="379.28" y="643.32" width="11.33" height="9.66" fill="#d84646"/>
<rect x="390.57" y="643.32" width="11.33" height="9.66" fill="#c21a00"/>
<rect x="401.85" y="643.32" width="11.33" height="9.66" fill="#4200ac"/>
<rect x="413.13" y="643.32" width="11.33" height="9.66" fill="#4200ac"/>
<rect x="424.42" y="643.32" width="11.33" height="9.66" fill="#f0c0e4"/>
<rect x="368.00" y="652.93" width="11.33" height="9.66" fill="#e68989"/>
<rect x="379.28" y="652.93" width="11.33" height="9.66" fill="#c21a00"/>
<rect x="390.57" y="652.93" width="11.33" height="9.66" fill="#d84646"/>
<rect x="401.85" y="652.93" width="11.33" height="9.66" fill="#2800d4"/>
<rect x="413.13" y="652.93" width="11.33" height="9.66" fill="#e25f5f"/>
<rect x="424.42" y="652.93" width="11.33" height="9.66" fill="#4200ac"/>
<rect x="368.00" y="662.54" width="11.33" height="9.66" fill="#4200ac"/>
<rect x="379.28" y="662.54" width="11.33" height="9.66" fill="#e27080"/>
<rect x="390.57" y="662.54" width="11.33" height="9.66" fill="#c21a00"/>
<rect x="401.85" y="662.54" width="11.33" height="9.66" fill="#f0c0e4"/>
<rect x="413.13" y="662.54" width="11.33" height="9.66" fill="#6c5af0"/>
<rect x="424.42" y="662.54" width="11.33" height="9.66" fill="#4200ac"/>
<rect x="368.00" y="672.14" width="11.33" height="9.66" fill="#e25f5f"/>
<rect x="379.28" y="672.14" width="11.33" height="9.66" fill="#e27080"/>
<rect x="390.57" y="672.14" width="11.33" height="9.66" fill="#c21a00"/>
<rect x="401.85" y="672.14" width="11.33" height="9.66" fill="#c8c2ff"/>
<rect x="413.13" y="672.14" width="11.33" height="9.66" fill="#4200ac"/>
<rect x="424.42" y="672.14" width="11.33" height="9.66" fill="#4200ac"/>
<rect x="368.00" y="681.75" width="11.33" height="9.66" fill="#d84646"/>
<rect x="379.28" y="681.75" width="11.33" height="9.66" fill="#c21a00"/>
<rect x="390.57" y="681.75" width="11.33" height="9.66" fill="#d8d8ff"/>
<rect x="401.85" y="681.75" width="11.33" height="9.66" fill="#8a8aff"/>
<rect x="413.13" y="681.75" width="11.33" height="9.66" fill="#c21a00"/>
<rect x="424.42" y="681.75" width="11.33" height="9.66" fill="#4200ac"/>
<rect x="368.00" y="691.36" width="11.33" height="9.66" fill="#d8d8ff"/>
<rect x="379.28" y="691.36" width="11.33" height="9.66" fill="#d8d8ff"/>
<rect x="390.57" y="691.36" width="11.33" height="9.66" fill="#c21a00"/>
<rect x="401.85" y="691.36" width="11.33" height="9.66" fill="#4200ac"/>
<rect x="413.13" y="691.36" width="11.33" height="9.66" fill="#4200ac"/>
<rect x="424.42" y="691.36" width="11.33" height="9.66" fill="#e25f5f"/>
<rect x="368.00" y="700.97" width="11.33" height="9.66" fill="#6c5af0"/>
<rect x="379.28" y="700.97" width="11.33" height="9.66" fill="#e25f5f"/>
<rect x="390.57" y="700.97" width="11.33" height="9.66" fill="#c21a00"/>
<rect x="401.85" y="700.97" width="11.33" height="9.66" fill="#8a8aff"/>
<rect x="413.13" y="700.97" width="11.33" height="9.66" fill="#4200ac"/>
<rect x="424.42" y="700.97" width="11.33" height="9.66" fill="#c8c2ff"/>
<rect x="368.00" y="710.57" width="11.33" height="9.66" fill="#c21a00"/>
<rect x="379.28" y="710.57" width="11.33" height="9.66" fill="#4200ac"/>
<rect x="390.57" y="710.57" width="11.33" height="9.66" fill="#c21a00"/>
<rect x="401.85" y="710.57" width="11.33" height="9.66" fill="#4200ac"/>
<rect x="413.13" y="710.57" width="11.33" height="9.66" fill="#4200ac"/>
<rect x="424.42" y="710.57" width="11.33" height="9.66" fill="#4200ac"/>
<rect x="368.00" y="720.18" width="11.33" height="9.66" fill="#e27080"/>
<rect x="379.28" y="720.18" width="11.33" height="9.66" fill="#2800d4"/>
<rect x="390.57" y="720.18" width="11.33" height="9.66" fill="#c21a00"/>
<rect x="401.85" y="720.18" width="11.33" height="9.66" fill="#6c5af0"/>
<rect x="413.13" y="720.18" width="11.33" height="9.66" fill="#e27080"/>
<rect x="424.42" y="720.18" width="11.33" height="9.66" fill="#4200ac"/>
<rect x="368.00" y="729.79" width="11.33" height="9.66" fill="#d84646"/>
<rect x="379.28" y="729.79" width="11.33" height="9.66" fill="#4200ac"/>
<rect x="390.57" y="729.79" width="11.33" height="9.66" fill="#c21a00"/>
<rect x="401.85" y="729.79" width="11.33" height="9.66" fill="#4200ac"/>
<rect x="413.13" y="729.79" width="11.33" height="9.66" fill="#8a8aff"/>
<rect x="424.42" y="729.79" width="11.33" height="9.66" fill="#f0c0e4"/>
<rect x="368.00" y="739.39" width="11.33" height="9.46" fill="#e68989"/>
<rect x="379.28" y="739.39" width="11.33" height="9.46" fill="#4200ac"/>
<rect x="390.57" y="739.39" width="11.33" height="9.46" fill="#c21a00"/>
<rect x="401.85" y="739.39" width="11.33" height="9.46" fill="#c8c2ff"/>
<rect x="413.13" y="739.39" width="11.33" height="9.46" fill="#d8d8ff"/>
<rect x="424.42" y="739.39" width="11.33" height="9.46" fill="#8a8aff"/>
<rect x="378.58" y="461.20" width="1.15" height="287.60" fill="#111"/>
<rect x="389.87" y="461.20" width="1.15" height="287.60" fill="#111"/>
<rect x="401.15" y="461.20" width="1.15" height="287.60" fill="#111"/>
<rect x="412.43" y="461.20" width="1.15" height="287.60" fill="#111"/>
<rect x="423.72" y="461.20" width="1.15" height="287.60" fill="#111"/>
<rect x="368.00" y="469.80" width="67.70" height="1.15" fill="#111"/>
<rect x="368.00" y="479.40" width="67.70" height="1.15" fill="#111"/>
<rect x="368.00" y="489.01" width="67.70" height="1.15" fill="#111"/>
<rect x="368.00" y="498.62" width="67.70" height="1.15" fill="#111"/>
<rect x="368.00" y="508.23" width="67.70" height="1.15" fill="#111"/>
<rect x="368.00" y="517.83" width="67.70" height="1.15" fill="#111"/>
<rect x="368.00" y="527.44" width="67.70" height="1.15" fill="#111"/>
<rect x="368.00" y="537.05" width="67.70" height="1.15" fill="#111"/>
<rect x="368.00" y="546.65" width="67.70" height="1.15" fill="#111"/>
<rect x="368.00" y="556.26" width="67.70" height="1.15" fill="#111"/>
<rect x="368.00" y="565.87" width="67.70" height="1.15" fill="#111"/>
<rect x="368.00" y="575.47" width="67.70" height="1.15" fill="#111"/>
<rect x="368.00" y="585.08" width="67.70" height="1.15" fill="#111"/>
<rect x="368.00" y="594.69" width="67.70" height="1.15" fill="#111"/>
<rect x="368.00" y="604.29" width="67.70" height="1.15" fill="#111"/>
<rect x="368.00" y="613.90" width="67.70" height="1.15" fill="#111"/>
<rect x="368.00" y="623.51" width="67.70" height="1.15" fill="#111"/>
<rect x="368.00" y="633.12" width="67.70" height="1.15" fill="#111"/>
<rect x="368.00" y="642.72" width="67.70" height="1.15" fill="#111"/>
<rect x="368.00" y="652.33" width="67.70" height="1.15" fill="#111"/>
<rect x="368.00" y="661.94" width="67.70" height="1.15" fill="#111"/>
<rect x="368.00" y="671.54" width="67.70" height="1.15" fill="#111"/>
<rect x="368.00" y="681.15" width="67.70" height="1.15" fill="#111"/>
<rect x="368.00" y="690.76" width="67.70" height="1.15" fill="#111"/>
<rect x="368.00" y="700.37" width="67.70" height="1.15" fill="#111"/>
<rect x="368.00" y="709.97" width="67.70" height="1.15" fill="#111"/>
<rect x="368.00" y="719.58" width="67.70" height="1.15" fill="#111"/>
<rect x="368.00" y="729.19" width="67.70" height="1.15" fill="#111"/>
<rect x="368.00" y="738.79" width="67.70" height="1.15" fill="#111"/>
<rect x="367.70" y="461.20" width="0.7" height="287.90" fill="#303838"/>
<rect x="367.70" y="748.50" width="68.00" height="0.7" fill="#303838"/>
<text x="440.9" y="468.80" class="g">EGR1</text>
<text x="440.9" y="478.39" class="g">APOE</text>
<text x="440.9" y="487.98" class="g">GATA2</text>
<text x="440.9" y="497.57" class="g">KLF6</text>
<text x="440.9" y="507.16" class="g">PF4</text>
<text x="440.9" y="516.75" class="g">ZFPM1</text>
<text x="440.9" y="526.34" class="g">SELP</text>
<text x="440.9" y="535.93" class="g">JUN</text>
<text x="440.9" y="545.52" class="g">KLF9</text>
<text x="440.9" y="555.11" class="g">FOS</text>
<text x="440.9" y="564.70" class="g">PTRF</text>
<text x="440.9" y="574.29" class="g">GATA1</text>
<text x="440.9" y="583.88" class="g">HDAC5</text>
<text x="440.9" y="593.47" class="g">NFE2</text>
<text x="440.9" y="603.06" class="g">SPIB</text>
<text x="440.9" y="612.65" class="g">POU6F1</text>
<text x="440.9" y="622.24" class="g">ALAS1</text>
<text x="440.9" y="631.83" class="g">GFI1B</text>
<text x="440.9" y="641.42" class="g">BACH1</text>
<text x="440.9" y="651.01" class="g">NRIH3</text>
<text x="440.9" y="660.60" class="g">EPOR</text>
<text x="440.9" y="670.19" class="g">MEIS1</text>
<text x="440.9" y="679.78" class="g">NDN</text>
<text x="440.9" y="689.37" class="g">CAR2</text>
<text x="440.9" y="698.96" class="g">ZFP37</text>
<text x="440.9" y="708.55" class="g">TCS22D1</text>
<text x="440.9" y="718.14" class="g">HAND1</text>
<text x="440.9" y="727.73" class="g">NAB2</text>
<text x="440.9" y="737.32" class="g">PIAS3</text>
<text x="440.9" y="746.91" class="g">ZEP14</text>
<text transform="translate(376.64,456.0) rotate(-90)" class="g">WT-1</text>
<text transform="translate(387.93,456.0) rotate(-90)" class="g">WT-2</text>
<text transform="translate(399.21,456.0) rotate(-90)" class="g">WT-3</text>
<text transform="translate(410.49,456.0) rotate(-90)" class="g">KO-1</text>
<text transform="translate(421.77,456.0) rotate(-90)" class="g">KO-2</text>
<text transform="translate(433.06,456.0) rotate(-90)" class="g">KO-3</text>
<text x="237.3" y="376.9" class="g" textLength="55" lengthAdjust="spacingAndGlyphs">Myeloid Genes</text>
<text x="370" y="377.1" class="g" textLength="59.5" lengthAdjust="spacingAndGlyphs">Erythroid Genes</text>
<text x="241.7" y="761.6" class="g" textLength="55" lengthAdjust="spacingAndGlyphs">Myeloid Genes</text>
<text x="372.2" y="761.7" class="g" textLength="59.5" lengthAdjust="spacingAndGlyphs">Erythroid Genes</text>
<linearGradient id="lg188" x1="0" x2="0" y1="0" y2="1"><stop offset="0%" stop-color="#3444a4"/><stop offset="25%" stop-color="#5a64b4"/><stop offset="50%" stop-color="#ffffff"/><stop offset="75%" stop-color="#d07878"/><stop offset="100%" stop-color="#b21c1c"/></linearGradient>
<rect x="478.9" y="188.7" width="9.900000000000034" height="63.5" fill="url(#lg188)" stroke="#666" stroke-width="0.6"/>
<text transform="translate(480.85,170.7) rotate(90)" class="l" textLength="15.3" lengthAdjust="spacingAndGlyphs">Low</text>
<text transform="translate(480.85,255.2) rotate(90)" class="l" textLength="18.9" lengthAdjust="spacingAndGlyphs">High</text>
<text transform="translate(495.30,186.0) rotate(90)" class="l" textLength="69" lengthAdjust="spacingAndGlyphs">Relative expression</text>
<linearGradient id="lg582" x1="0" x2="0" y1="0" y2="1"><stop offset="0%" stop-color="#3444a4"/><stop offset="25%" stop-color="#5a64b4"/><stop offset="50%" stop-color="#ffffff"/><stop offset="75%" stop-color="#d07878"/><stop offset="100%" stop-color="#b21c1c"/></linearGradient>
<rect x="483.9" y="582.8" width="9.700000000000045" height="64.80000000000007" fill="url(#lg582)" stroke="#666" stroke-width="0.6"/>
<text transform="translate(485.75,566.0) rotate(90)" class="l" textLength="15.3" lengthAdjust="spacingAndGlyphs">Low</text>
<text transform="translate(485.75,650.6) rotate(90)" class="l" textLength="18.9" lengthAdjust="spacingAndGlyphs">High</text>
<text transform="translate(500.50,578.7) rotate(90)" class="l" textLength="69" lengthAdjust="spacingAndGlyphs">Relative expression</text>
</svg>
</body></html>
